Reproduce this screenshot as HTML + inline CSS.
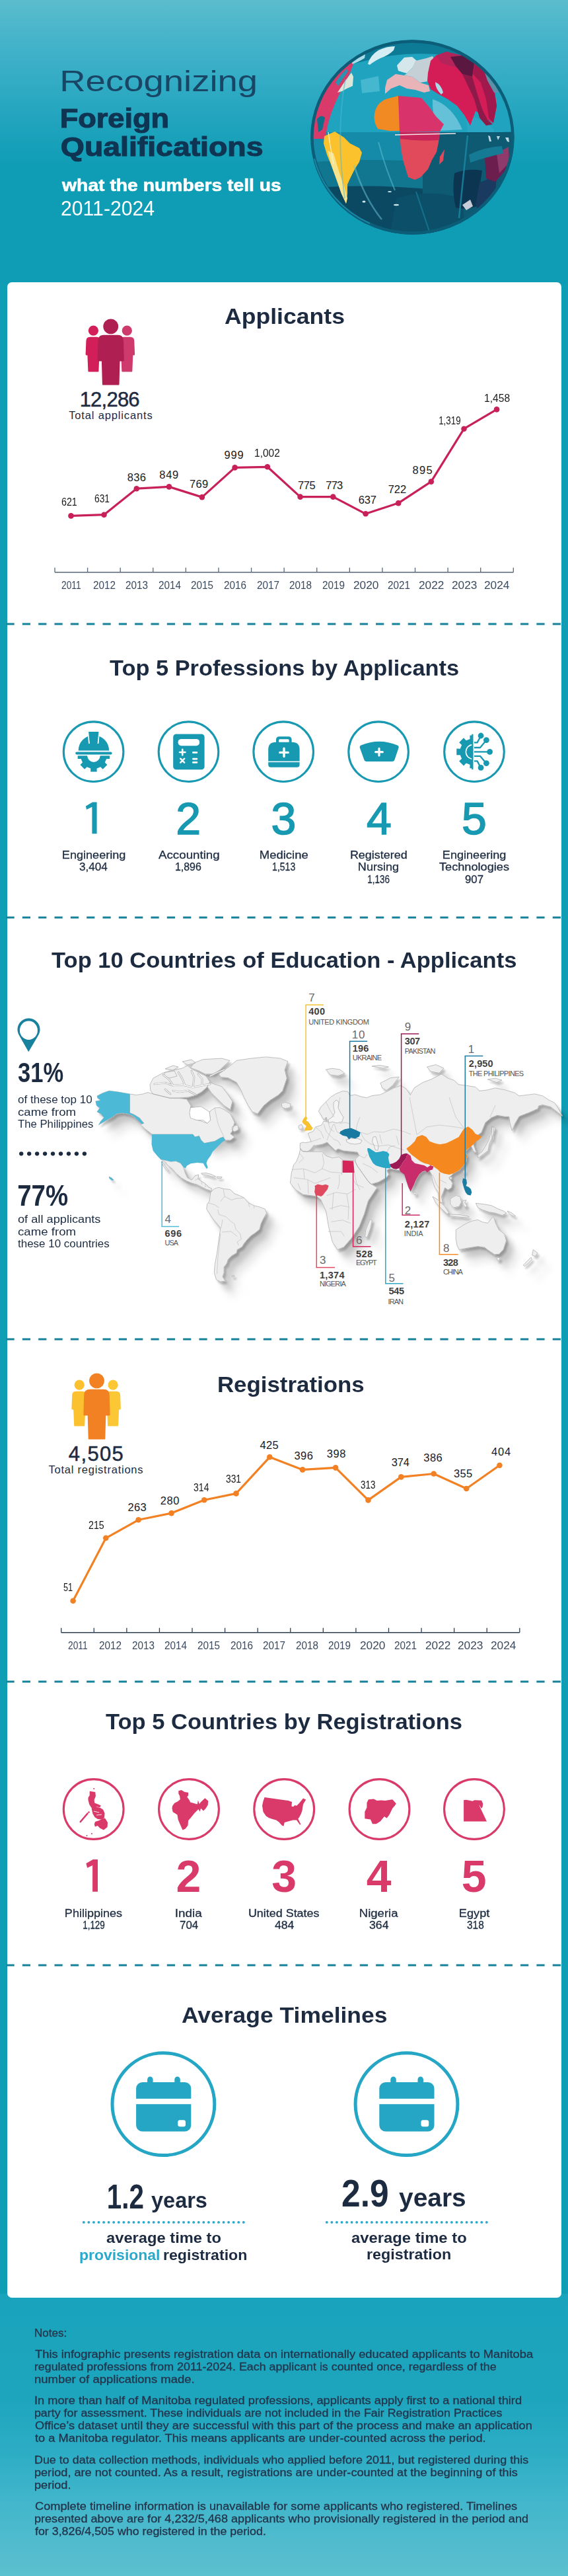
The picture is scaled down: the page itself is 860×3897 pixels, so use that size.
<!DOCTYPE html>
<html><head><meta charset="utf-8"><title>Recognizing Foreign Qualifications</title>
<style>
html,body{margin:0;padding:0;}
body{width:860px;height:3897px;position:relative;overflow:hidden;font-family:"Liberation Sans",sans-serif;background:#109eb5;}
.t{position:absolute;white-space:nowrap;line-height:1;}
.abs{position:absolute;}
svg{position:absolute;overflow:visible;}
</style></head><body>
<div class="abs" style="left:0;top:0;width:860px;height:430px;background:linear-gradient(180deg,#5bbccd 0px,#45b4ca 60px,#34acc5 120px,#1fa3bd 190px,#0f9db5 250px,#0f9db5 430px);"></div>
<div class="abs" style="left:0;top:3470px;width:860px;height:427px;background:linear-gradient(180deg,#1aa3bc 0px,#1ea5be 160px,#2cadc5 240px,#42b6cb 316px,#5cc0d0 427px);"></div>
<div class="abs" style="left:10.6px;top:427px;width:839px;height:3049px;background:#fff;border-radius:7px;"></div>
<div class="t" style="left:91.00px;top:100.68px;font-size:44px;font-weight:400;color:#1a4666;transform:scaleX(1.2380);transform-origin:3.00px 0;">Recognizing</div>
<div class="t" style="left:91.20px;top:159.26px;font-size:40px;font-weight:700;color:#0f3553;transform:scaleX(1.1271);transform-origin:2.00px 0;-webkit-text-stroke:1.2px #0f3553;">Foreign</div>
<div class="t" style="left:92.20px;top:201.76px;font-size:40px;font-weight:700;color:#0f3553;transform:scaleX(1.1592);transform-origin:1.00px 0;-webkit-text-stroke:1.2px #0f3553;">Qualifications</div>
<div class="t" style="left:93.70px;top:267.40px;font-size:26px;font-weight:700;color:#ffffff;transform:scaleX(1.0882);transform-origin:-1.00px 0;-webkit-text-stroke:0.6px #fff;">what the numbers tell us</div>
<div class="t" style="left:91.70px;top:299.77px;font-size:31px;font-weight:400;color:#ffffff;transform:scaleX(0.9730);transform-origin:1.00px 0;">2011-2024</div>
<div class="t" style="left:339.75px;top:462.08px;font-size:33px;font-weight:700;color:#1d2b41;transform:scaleX(1.0787);transform-origin:0.00px 0;">Applicants</div>
<div class="t" style="left:165.50px;top:994.08px;font-size:33px;font-weight:700;color:#1d2b41;transform:scaleX(1.0418);transform-origin:0.00px 0;">Top 5 Professions by Applicants</div>
<div class="t" style="left:77.60px;top:1435.78px;font-size:33px;font-weight:700;color:#1d2b41;transform:scaleX(1.0468);transform-origin:0.00px 0;">Top 10 Countries of Education - Applicants</div>
<div class="t" style="left:328.60px;top:2078.08px;font-size:33px;font-weight:700;color:#1d2b41;transform:scaleX(1.0568);transform-origin:2.00px 0;">Registrations</div>
<div class="t" style="left:160.40px;top:2587.78px;font-size:33px;font-weight:700;color:#1d2b41;transform:scaleX(1.0456);transform-origin:0.00px 0;">Top 5 Countries by Registrations</div>
<div class="t" style="left:275.00px;top:3032.08px;font-size:33px;font-weight:700;color:#1d2b41;transform:scaleX(1.0747);transform-origin:0.00px 0;">Average Timelines</div>
<svg style="left:0;top:939px" width="860" height="10" viewBox="0 939 860 10"><line x1="9.5" y1="944" x2="849.5" y2="944" stroke="#17819a" stroke-width="3" stroke-dasharray="12.2 12.13"/></svg>
<svg style="left:0;top:1382.5px" width="860" height="10" viewBox="0 1382.5 860 10"><line x1="9.5" y1="1387.5" x2="849.5" y2="1387.5" stroke="#17819a" stroke-width="3" stroke-dasharray="12.2 12.13"/></svg>
<svg style="left:0;top:2021px" width="860" height="10" viewBox="0 2021 860 10"><line x1="9.5" y1="2026" x2="849.5" y2="2026" stroke="#17819a" stroke-width="3" stroke-dasharray="12.2 12.13"/></svg>
<svg style="left:0;top:2539px" width="860" height="10" viewBox="0 2539 860 10"><line x1="9.5" y1="2544" x2="849.5" y2="2544" stroke="#17819a" stroke-width="3" stroke-dasharray="12.2 12.13"/></svg>
<svg style="left:0;top:2967.5px" width="860" height="10" viewBox="0 2967.5 860 10"><line x1="9.5" y1="2972.5" x2="849.5" y2="2972.5" stroke="#17819a" stroke-width="3" stroke-dasharray="12.2 12.13"/></svg>
<svg style="left:0;top:0" width="860" height="3897"><g transform="translate(0,0)"><circle cx="141.4" cy="500.2" r="7.6" fill="#d21f5a"/><path d="M130.4,515.8 Q130.4,509.8 136.4,509.8 L146.4,509.8 Q152.4,509.8 152.4,515.8 L153.20000000000002,535.9 Q153.20000000000002,537.4 151.70000000000002,537.4 L150.4,537.4 L149.4,561.5 Q149.4,562.5 148.4,562.5 L134.4,562.5 Q133.4,562.5 133.4,561.5 L132.4,537.4 L131.1,537.4 Q129.6,537.4 129.6,535.9 Z" fill="#d21f5a"/><circle cx="192.3" cy="500.2" r="7.6" fill="#ce3a6c"/><path d="M181.3,515.8 Q181.3,509.8 187.3,509.8 L197.3,509.8 Q203.3,509.8 203.3,515.8 L204.10000000000002,535.9 Q204.10000000000002,537.4 202.60000000000002,537.4 L201.3,537.4 L200.3,561.5 Q200.3,562.5 199.3,562.5 L185.3,562.5 Q184.3,562.5 184.3,561.5 L183.3,537.4 L182.0,537.4 Q180.5,537.4 180.5,535.9 Z" fill="#ce3a6c"/><circle cx="167.7" cy="493.9" r="11.4" fill="#b01f52" stroke="#fff" stroke-width="0"/><path d="M148.4,515.8 Q148.4,506.8 157.4,506.8 L177.99999999999997,506.8 Q186.99999999999997,506.8 186.99999999999997,515.8 L187.79999999999998,545.1 Q187.79999999999998,546.6 186.29999999999998,546.6 L181.5,546.6 L180.5,581.5 Q180.5,582.5 179.5,582.5 L155.89999999999998,582.5 Q154.89999999999998,582.5 154.89999999999998,581.5 L153.89999999999998,546.6 L149.1,546.6 Q147.6,546.6 147.6,545.1 Z" fill="#b01f52"/></g></svg>
<svg style="left:0;top:0" width="860" height="3897"><g transform="translate(-21.2,1595)"><circle cx="141.4" cy="500.2" r="7.6" fill="#fbc12e"/><path d="M130.4,515.8 Q130.4,509.8 136.4,509.8 L146.4,509.8 Q152.4,509.8 152.4,515.8 L153.20000000000002,535.9 Q153.20000000000002,537.4 151.70000000000002,537.4 L150.4,537.4 L149.4,561.5 Q149.4,562.5 148.4,562.5 L134.4,562.5 Q133.4,562.5 133.4,561.5 L132.4,537.4 L131.1,537.4 Q129.6,537.4 129.6,535.9 Z" fill="#fbc12e"/><circle cx="192.3" cy="500.2" r="7.6" fill="#fbc734"/><path d="M181.3,515.8 Q181.3,509.8 187.3,509.8 L197.3,509.8 Q203.3,509.8 203.3,515.8 L204.10000000000002,535.9 Q204.10000000000002,537.4 202.60000000000002,537.4 L201.3,537.4 L200.3,561.5 Q200.3,562.5 199.3,562.5 L185.3,562.5 Q184.3,562.5 184.3,561.5 L183.3,537.4 L182.0,537.4 Q180.5,537.4 180.5,535.9 Z" fill="#fbc734"/><circle cx="167.7" cy="493.9" r="11.4" fill="#f28124" stroke="#fff" stroke-width="0"/><path d="M148.4,515.8 Q148.4,506.8 157.4,506.8 L177.99999999999997,506.8 Q186.99999999999997,506.8 186.99999999999997,515.8 L187.79999999999998,545.1 Q187.79999999999998,546.6 186.29999999999998,546.6 L181.5,546.6 L180.5,581.5 Q180.5,582.5 179.5,582.5 L155.89999999999998,582.5 Q154.89999999999998,582.5 154.89999999999998,581.5 L153.89999999999998,546.6 L149.1,546.6 Q147.6,546.6 147.6,545.1 Z" fill="#f28124"/></g></svg>
<div class="t" style="left:120.65px;top:588.57px;font-size:31px;font-weight:400;color:#1d2b41;letter-spacing:-0.775px;-webkit-text-stroke:0.5px #1d2b41;">12,286</div>
<div class="t" style="left:104.15px;top:620.44px;font-size:16.5px;font-weight:400;color:#1d2b41;letter-spacing:0.854px;">Total applicants</div>
<div class="t" style="left:103.85px;top:2184.17px;font-size:31px;font-weight:400;color:#1d2b41;letter-spacing:1.341px;-webkit-text-stroke:0.5px #1d2b41;">4,505</div>
<div class="t" style="left:73.50px;top:2214.54px;font-size:16.5px;font-weight:400;color:#1d2b41;letter-spacing:0.763px;">Total registrations</div>
<svg style="left:0;top:0" width="860" height="3897"><line x1="83" y1="865.8" x2="777.3" y2="865.8" stroke="#56677a" stroke-width="1.6"/><line x1="83.00" y1="858.8" x2="83.00" y2="865.8" stroke="#56677a" stroke-width="1.3"/><line x1="132.59" y1="858.8" x2="132.59" y2="865.8" stroke="#56677a" stroke-width="1.3"/><line x1="182.19" y1="858.8" x2="182.19" y2="865.8" stroke="#56677a" stroke-width="1.3"/><line x1="231.78" y1="858.8" x2="231.78" y2="865.8" stroke="#56677a" stroke-width="1.3"/><line x1="281.37" y1="858.8" x2="281.37" y2="865.8" stroke="#56677a" stroke-width="1.3"/><line x1="330.96" y1="858.8" x2="330.96" y2="865.8" stroke="#56677a" stroke-width="1.3"/><line x1="380.56" y1="858.8" x2="380.56" y2="865.8" stroke="#56677a" stroke-width="1.3"/><line x1="430.15" y1="858.8" x2="430.15" y2="865.8" stroke="#56677a" stroke-width="1.3"/><line x1="479.74" y1="858.8" x2="479.74" y2="865.8" stroke="#56677a" stroke-width="1.3"/><line x1="529.34" y1="858.8" x2="529.34" y2="865.8" stroke="#56677a" stroke-width="1.3"/><line x1="578.93" y1="858.8" x2="578.93" y2="865.8" stroke="#56677a" stroke-width="1.3"/><line x1="628.52" y1="858.8" x2="628.52" y2="865.8" stroke="#56677a" stroke-width="1.3"/><line x1="678.11" y1="858.8" x2="678.11" y2="865.8" stroke="#56677a" stroke-width="1.3"/><line x1="727.71" y1="858.8" x2="727.71" y2="865.8" stroke="#56677a" stroke-width="1.3"/><line x1="777.30" y1="858.8" x2="777.30" y2="865.8" stroke="#56677a" stroke-width="1.3"/><polyline fill="none" stroke="#c8215a" stroke-width="3.2" stroke-linejoin="round" points="107.5,780.4 157.5,778.7 206.8,739.2 256,736.4 305.9,752.1 355.6,707.4 404.9,706.3 454.6,751.6 504.3,751.6 553.6,777.3 603.2,761.1 652.8,728.6 702.5,648.7 752.1,619.4"/><circle cx="107.5" cy="780.4" r="4.3" fill="#c8215a"/><circle cx="157.5" cy="778.7" r="4.3" fill="#c8215a"/><circle cx="206.8" cy="739.2" r="4.3" fill="#c8215a"/><circle cx="256" cy="736.4" r="4.3" fill="#c8215a"/><circle cx="305.9" cy="752.1" r="4.3" fill="#c8215a"/><circle cx="355.6" cy="707.4" r="4.3" fill="#c8215a"/><circle cx="404.9" cy="706.3" r="4.3" fill="#c8215a"/><circle cx="454.6" cy="751.6" r="4.3" fill="#c8215a"/><circle cx="504.3" cy="751.6" r="4.3" fill="#c8215a"/><circle cx="553.6" cy="777.3" r="4.3" fill="#c8215a"/><circle cx="603.2" cy="761.1" r="4.3" fill="#c8215a"/><circle cx="652.8" cy="728.6" r="4.3" fill="#c8215a"/><circle cx="702.5" cy="648.7" r="4.3" fill="#c8215a"/><circle cx="752.1" cy="619.4" r="4.3" fill="#c8215a"/></svg>
<div class="t" style="left:93.40px;top:751.04px;font-size:16.5px;font-weight:400;color:#1a1a1a;transform:scaleX(0.8628);transform-origin:0.00px 0;">621</div>
<div class="t" style="left:142.75px;top:746.44px;font-size:16.5px;font-weight:400;color:#1a1a1a;transform:scaleX(0.8372);transform-origin:0.00px 0;">631</div>
<div class="t" style="left:192.65px;top:713.64px;font-size:16.5px;font-weight:400;color:#1a1a1a;letter-spacing:0.373px;">836</div>
<div class="t" style="left:241.30px;top:710.44px;font-size:16.5px;font-weight:400;color:#1a1a1a;letter-spacing:0.723px;">849</div>
<div class="t" style="left:286.90px;top:724.04px;font-size:16.5px;font-weight:400;color:#1a1a1a;letter-spacing:0.423px;">769</div>
<div class="t" style="left:339.40px;top:680.04px;font-size:16.5px;font-weight:400;color:#1a1a1a;letter-spacing:0.923px;">999</div>
<div class="t" style="left:385.15px;top:677.24px;font-size:16.5px;font-weight:400;color:#1a1a1a;transform:scaleX(0.9398);transform-origin:1.00px 0;">1,002</div>
<div class="t" style="left:451.10px;top:725.64px;font-size:16.5px;font-weight:400;color:#1a1a1a;letter-spacing:-0.477px;">775</div>
<div class="t" style="left:493.35px;top:725.64px;font-size:16.5px;font-weight:400;color:#1a1a1a;letter-spacing:-0.827px;">773</div>
<div class="t" style="left:542.65px;top:748.24px;font-size:16.5px;font-weight:400;color:#1a1a1a;letter-spacing:-0.127px;">637</div>
<div class="t" style="left:587.70px;top:731.64px;font-size:16.5px;font-weight:400;color:#1a1a1a;letter-spacing:-0.077px;">722</div>
<div class="t" style="left:624.60px;top:702.64px;font-size:16.5px;font-weight:400;color:#1a1a1a;letter-spacing:1.323px;">895</div>
<div class="t" style="left:664.10px;top:627.64px;font-size:16.5px;font-weight:400;color:#1a1a1a;transform:scaleX(0.8077);transform-origin:1.00px 0;">1,319</div>
<div class="t" style="left:732.80px;top:593.54px;font-size:16.5px;font-weight:400;color:#1a1a1a;transform:scaleX(0.9473);transform-origin:1.00px 0;">1,458</div>
<div class="t" style="left:93.20px;top:876.82px;font-size:17px;font-weight:400;color:#3c4b5f;transform:scaleX(0.8088);transform-origin:0.00px 0;">2011</div>
<div class="t" style="left:140.59px;top:876.82px;font-size:17px;font-weight:400;color:#3c4b5f;transform:scaleX(0.8993);transform-origin:0.00px 0;">2012</div>
<div class="t" style="left:190.18px;top:876.82px;font-size:17px;font-weight:400;color:#3c4b5f;transform:scaleX(0.8993);transform-origin:0.00px 0;">2013</div>
<div class="t" style="left:239.77px;top:876.82px;font-size:17px;font-weight:400;color:#3c4b5f;transform:scaleX(0.8993);transform-origin:0.00px 0;">2014</div>
<div class="t" style="left:289.36px;top:876.82px;font-size:17px;font-weight:400;color:#3c4b5f;transform:scaleX(0.8993);transform-origin:0.00px 0;">2015</div>
<div class="t" style="left:338.95px;top:876.82px;font-size:17px;font-weight:400;color:#3c4b5f;transform:scaleX(0.8993);transform-origin:0.00px 0;">2016</div>
<div class="t" style="left:388.54px;top:876.82px;font-size:17px;font-weight:400;color:#3c4b5f;transform:scaleX(0.8993);transform-origin:0.00px 0;">2017</div>
<div class="t" style="left:438.13px;top:876.82px;font-size:17px;font-weight:400;color:#3c4b5f;transform:scaleX(0.8993);transform-origin:0.00px 0;">2018</div>
<div class="t" style="left:487.72px;top:876.82px;font-size:17px;font-weight:400;color:#3c4b5f;transform:scaleX(0.8993);transform-origin:0.00px 0;">2019</div>
<div class="t" style="left:535.11px;top:876.82px;font-size:17px;font-weight:400;color:#3c4b5f;transform:scaleX(1.0170);transform-origin:0.00px 0;">2020</div>
<div class="t" style="left:586.90px;top:876.82px;font-size:17px;font-weight:400;color:#3c4b5f;transform:scaleX(0.8993);transform-origin:0.00px 0;">2021</div>
<div class="t" style="left:634.29px;top:876.82px;font-size:17px;font-weight:400;color:#3c4b5f;transform:scaleX(1.0170);transform-origin:0.00px 0;">2022</div>
<div class="t" style="left:683.88px;top:876.82px;font-size:17px;font-weight:400;color:#3c4b5f;transform:scaleX(1.0170);transform-origin:0.00px 0;">2023</div>
<div class="t" style="left:733.47px;top:876.82px;font-size:17px;font-weight:400;color:#3c4b5f;transform:scaleX(1.0170);transform-origin:0.00px 0;">2024</div>
<svg style="left:0;top:0" width="860" height="3897"><line x1="92.7" y1="2469.7" x2="786.8" y2="2469.7" stroke="#2e3e52" stroke-width="1.6"/><line x1="92.70" y1="2462.7" x2="92.70" y2="2469.7" stroke="#2e3e52" stroke-width="1.3"/><line x1="142.28" y1="2462.7" x2="142.28" y2="2469.7" stroke="#2e3e52" stroke-width="1.3"/><line x1="191.86" y1="2462.7" x2="191.86" y2="2469.7" stroke="#2e3e52" stroke-width="1.3"/><line x1="241.44" y1="2462.7" x2="241.44" y2="2469.7" stroke="#2e3e52" stroke-width="1.3"/><line x1="291.01" y1="2462.7" x2="291.01" y2="2469.7" stroke="#2e3e52" stroke-width="1.3"/><line x1="340.59" y1="2462.7" x2="340.59" y2="2469.7" stroke="#2e3e52" stroke-width="1.3"/><line x1="390.17" y1="2462.7" x2="390.17" y2="2469.7" stroke="#2e3e52" stroke-width="1.3"/><line x1="439.75" y1="2462.7" x2="439.75" y2="2469.7" stroke="#2e3e52" stroke-width="1.3"/><line x1="489.33" y1="2462.7" x2="489.33" y2="2469.7" stroke="#2e3e52" stroke-width="1.3"/><line x1="538.91" y1="2462.7" x2="538.91" y2="2469.7" stroke="#2e3e52" stroke-width="1.3"/><line x1="588.49" y1="2462.7" x2="588.49" y2="2469.7" stroke="#2e3e52" stroke-width="1.3"/><line x1="638.06" y1="2462.7" x2="638.06" y2="2469.7" stroke="#2e3e52" stroke-width="1.3"/><line x1="687.64" y1="2462.7" x2="687.64" y2="2469.7" stroke="#2e3e52" stroke-width="1.3"/><line x1="737.22" y1="2462.7" x2="737.22" y2="2469.7" stroke="#2e3e52" stroke-width="1.3"/><line x1="786.80" y1="2462.7" x2="786.80" y2="2469.7" stroke="#2e3e52" stroke-width="1.3"/><polyline fill="none" stroke="#f28124" stroke-width="3.2" stroke-linejoin="round" points="110.6,2421.8 160.3,2326.8 209.6,2299.3 259.6,2289.1 309.2,2269.3 357.5,2259.4 408.3,2204.3 458.1,2223.4 508.1,2220.4 557.5,2269.4 607.3,2234.4 656.7,2229.5 706.2,2252 756.4,2216.7"/><circle cx="110.6" cy="2421.8" r="4.3" fill="#f28124"/><circle cx="160.3" cy="2326.8" r="4.3" fill="#f28124"/><circle cx="209.6" cy="2299.3" r="4.3" fill="#f28124"/><circle cx="259.6" cy="2289.1" r="4.3" fill="#f28124"/><circle cx="309.2" cy="2269.3" r="4.3" fill="#f28124"/><circle cx="357.5" cy="2259.4" r="4.3" fill="#f28124"/><circle cx="408.3" cy="2204.3" r="4.3" fill="#f28124"/><circle cx="458.1" cy="2223.4" r="4.3" fill="#f28124"/><circle cx="508.1" cy="2220.4" r="4.3" fill="#f28124"/><circle cx="557.5" cy="2269.4" r="4.3" fill="#f28124"/><circle cx="607.3" cy="2234.4" r="4.3" fill="#f28124"/><circle cx="656.7" cy="2229.5" r="4.3" fill="#f28124"/><circle cx="706.2" cy="2252" r="4.3" fill="#f28124"/><circle cx="756.4" cy="2216.7" r="4.3" fill="#f28124"/></svg>
<div class="t" style="left:95.85px;top:2393.04px;font-size:16.5px;font-weight:400;color:#1a1a1a;transform:scaleX(0.7757);transform-origin:0.00px 0;">51</div>
<div class="t" style="left:133.90px;top:2299.44px;font-size:16.5px;font-weight:400;color:#1a1a1a;transform:scaleX(0.8628);transform-origin:0.00px 0;">215</div>
<div class="t" style="left:193.45px;top:2272.34px;font-size:16.5px;font-weight:400;color:#1a1a1a;letter-spacing:0.373px;">263</div>
<div class="t" style="left:242.75px;top:2262.44px;font-size:16.5px;font-weight:400;color:#1a1a1a;letter-spacing:0.573px;">280</div>
<div class="t" style="left:293.05px;top:2242.34px;font-size:16.5px;font-weight:400;color:#1a1a1a;transform:scaleX(0.8518);transform-origin:0.00px 0;">314</div>
<div class="t" style="left:341.55px;top:2229.24px;font-size:16.5px;font-weight:400;color:#1a1a1a;transform:scaleX(0.8372);transform-origin:0.00px 0;">331</div>
<div class="t" style="left:393.45px;top:2178.24px;font-size:16.5px;font-weight:400;color:#1a1a1a;letter-spacing:0.373px;">425</div>
<div class="t" style="left:445.50px;top:2194.04px;font-size:16.5px;font-weight:400;color:#1a1a1a;letter-spacing:0.423px;">396</div>
<div class="t" style="left:494.75px;top:2191.24px;font-size:16.5px;font-weight:400;color:#1a1a1a;letter-spacing:0.573px;">398</div>
<div class="t" style="left:545.90px;top:2238.04px;font-size:16.5px;font-weight:400;color:#1a1a1a;transform:scaleX(0.8116);transform-origin:0.00px 0;">313</div>
<div class="t" style="left:592.75px;top:2204.24px;font-size:16.5px;font-weight:400;color:#1a1a1a;letter-spacing:-0.127px;">374</div>
<div class="t" style="left:641.35px;top:2197.24px;font-size:16.5px;font-weight:400;color:#1a1a1a;letter-spacing:0.373px;">386</div>
<div class="t" style="left:686.90px;top:2221.14px;font-size:16.5px;font-weight:400;color:#1a1a1a;letter-spacing:0.423px;">355</div>
<div class="t" style="left:743.90px;top:2187.74px;font-size:16.5px;font-weight:400;color:#1a1a1a;letter-spacing:0.923px;">404</div>
<div class="t" style="left:102.90px;top:2481.32px;font-size:17px;font-weight:400;color:#3c4b5f;transform:scaleX(0.8088);transform-origin:0.00px 0;">2011</div>
<div class="t" style="left:150.28px;top:2481.32px;font-size:17px;font-weight:400;color:#3c4b5f;transform:scaleX(0.8993);transform-origin:0.00px 0;">2012</div>
<div class="t" style="left:199.86px;top:2481.32px;font-size:17px;font-weight:400;color:#3c4b5f;transform:scaleX(0.8993);transform-origin:0.00px 0;">2013</div>
<div class="t" style="left:249.44px;top:2481.32px;font-size:17px;font-weight:400;color:#3c4b5f;transform:scaleX(0.8993);transform-origin:0.00px 0;">2014</div>
<div class="t" style="left:299.02px;top:2481.32px;font-size:17px;font-weight:400;color:#3c4b5f;transform:scaleX(0.8993);transform-origin:0.00px 0;">2015</div>
<div class="t" style="left:348.60px;top:2481.32px;font-size:17px;font-weight:400;color:#3c4b5f;transform:scaleX(0.8993);transform-origin:0.00px 0;">2016</div>
<div class="t" style="left:398.18px;top:2481.32px;font-size:17px;font-weight:400;color:#3c4b5f;transform:scaleX(0.8993);transform-origin:0.00px 0;">2017</div>
<div class="t" style="left:447.76px;top:2481.32px;font-size:17px;font-weight:400;color:#3c4b5f;transform:scaleX(0.8993);transform-origin:0.00px 0;">2018</div>
<div class="t" style="left:497.34px;top:2481.32px;font-size:17px;font-weight:400;color:#3c4b5f;transform:scaleX(0.8993);transform-origin:0.00px 0;">2019</div>
<div class="t" style="left:544.72px;top:2481.32px;font-size:17px;font-weight:400;color:#3c4b5f;transform:scaleX(1.0170);transform-origin:0.00px 0;">2020</div>
<div class="t" style="left:596.50px;top:2481.32px;font-size:17px;font-weight:400;color:#3c4b5f;transform:scaleX(0.8993);transform-origin:0.00px 0;">2021</div>
<div class="t" style="left:643.88px;top:2481.32px;font-size:17px;font-weight:400;color:#3c4b5f;transform:scaleX(1.0170);transform-origin:0.00px 0;">2022</div>
<div class="t" style="left:693.46px;top:2481.32px;font-size:17px;font-weight:400;color:#3c4b5f;transform:scaleX(1.0170);transform-origin:0.00px 0;">2023</div>
<div class="t" style="left:743.04px;top:2481.32px;font-size:17px;font-weight:400;color:#3c4b5f;transform:scaleX(1.0170);transform-origin:0.00px 0;">2024</div>
<svg style="left:0;top:0" width="860" height="3897"><circle cx="141.6" cy="1137.2" r="45.3" fill="none" stroke="#1899b2" stroke-width="3.1"/><circle cx="285.5" cy="1137.2" r="45.3" fill="none" stroke="#1899b2" stroke-width="3.1"/><circle cx="429.2" cy="1137.2" r="45.3" fill="none" stroke="#1899b2" stroke-width="3.1"/><circle cx="573.1" cy="1137.2" r="45.3" fill="none" stroke="#1899b2" stroke-width="3.1"/><circle cx="718" cy="1137.2" r="45.3" fill="none" stroke="#1899b2" stroke-width="3.1"/><clipPath id="gclip"><rect x="100" y="1143.2" width="90" height="40"/></clipPath><path d="M161.13,1138.49 L166.15,1138.49 L166.15,1147.91 L161.13,1147.91 L158.83,1153.47 L162.38,1157.01 L155.71,1163.68 L152.17,1160.13 L146.61,1162.43 L146.61,1167.45 L137.19,1167.45 L137.19,1162.43 L131.63,1160.13 L128.09,1163.68 L121.42,1157.01 L124.97,1153.47 L122.67,1147.91 L117.65,1147.91 L117.65,1138.49 L122.67,1138.49 L124.97,1132.93 L121.42,1129.39 L128.09,1122.72 L131.63,1126.27 L137.19,1123.97 L137.19,1118.95 L146.61,1118.95 L146.61,1123.97 L152.17,1126.27 L155.71,1122.72 L162.38,1129.39 L158.83,1132.93 Z" fill="#1899b2" clip-path="url(#gclip)"/><circle cx="141.9" cy="1143.2" r="9.7" fill="#fff"/><path d="M118.7,1135.4 A23.2,23.2 0 0 1 165.1,1135.4 Z" fill="#1899b2"/><path d="M132.4,1106 L151.1,1106 L149.4,1125 L134.1,1125 Z" fill="#fff"/><path d="M134.1,1107 L149.4,1107 L147.6,1125 L135.9,1125 Z" fill="#1899b2"/><rect x="114.2" y="1137.4" width="55.4" height="4.2" rx="2" fill="#1899b2"/><rect x="262.2" y="1110.4" width="47.4" height="53.9" rx="4.5" fill="#1899b2"/><rect x="269.6" y="1117.9" width="32.5" height="10.3" rx="5" fill="#fff"/><path d="M276.2,1133.8 L276.2,1142.2 M272,1138 L280.4,1138" stroke="#fff" stroke-width="2.6" stroke-linecap="round"/><path d="M273.2,1147.7 L279.2,1153.7 M279.2,1147.7 L273.2,1153.7" stroke="#fff" stroke-width="2.4" stroke-linecap="round"/><path d="M292.3,1138.4 L298,1138.4 M292.3,1148.1 L298,1148.1 M292.3,1153.4 L298,1153.4" stroke="#fff" stroke-width="2.6" stroke-linecap="round"/><rect x="418" y="1114.2" width="23.6" height="14" rx="4.5" fill="#1899b2"/><rect x="422.2" y="1118.2" width="15.4" height="10" rx="1.5" fill="#fff"/><path d="M406.2,1134 Q406.2,1122.7 417.5,1122.7 L442.3,1122.7 Q453.6,1122.7 453.6,1134 L453.6,1156.8 Q453.6,1160.8 449.6,1160.8 L410.2,1160.8 Q406.2,1160.8 406.2,1156.8 Z" fill="#1899b2"/><rect x="406" y="1151.6" width="48" height="1.5" fill="#fff"/><path d="M430,1132.2 L430,1144.6 M423.8,1138.4 L436.2,1138.4" stroke="#fff" stroke-width="3.4" stroke-linecap="round"/><path d="M546.5,1127.5 Q574.1,1116 601.7,1127.5 Q604.5,1128.8 603.4,1131.8 L597.6,1149 Q596.8,1151.9 593.8,1151.9 L555,1151.9 Q552,1151.9 551.2,1149 L545,1131.8 Q543.9,1128.8 546.5,1127.5 Z" fill="#1899b2"/><path d="M574,1132.4 L574,1143 M568.7,1137.7 L579.3,1137.7" stroke="#fff" stroke-width="3.2" stroke-linecap="round"/><clipPath id="gclip2"><rect x="680" y="1100" width="35.2" height="80"/></clipPath><path d="M735.63,1132.65 L741.13,1132.55 L741.13,1142.25 L735.63,1142.15 L733.30,1147.78 L737.26,1151.60 L730.40,1158.46 L726.58,1154.50 L720.95,1156.83 L721.05,1162.33 L711.35,1162.33 L711.45,1156.83 L705.82,1154.50 L702.00,1158.46 L695.14,1151.60 L699.10,1147.78 L696.77,1142.15 L691.27,1142.25 L691.27,1132.55 L696.77,1132.65 L699.10,1127.02 L695.14,1123.20 L702.00,1116.34 L705.82,1120.30 L711.45,1117.97 L711.35,1112.47 L721.05,1112.47 L720.95,1117.97 L726.58,1120.30 L730.40,1116.34 L737.26,1123.20 L733.30,1127.02 Z" fill="#1899b2" clip-path="url(#gclip2)"/><circle cx="716.2" cy="1137.4" r="11.6" fill="#fff"/><path d="M716.2,1127.4 A10,10 0 0 0 716.2,1147.4 Z" fill="#1899b2"/><rect x="714.2" y="1110.7" width="2.3" height="53.4" fill="#1899b2"/><g stroke="#1899b2" stroke-width="2.3" fill="none" stroke-linejoin="round"><path d="M718,1123.4 L722.6,1123.4 L728.1,1113"/><path d="M718,1131 L727,1131 L736.4,1119.7"/><path d="M718,1137.4 L741.6,1137.4"/><path d="M718,1143.8 L727,1143.8 L736.4,1155"/><path d="M718,1151.4 L722.6,1151.4 L728.1,1161.8"/></g><circle cx="728.1" cy="1113" r="4.4" fill="#1899b2"/><circle cx="736.4" cy="1119.7" r="4.4" fill="#1899b2"/><circle cx="741.6" cy="1137.4" r="4.4" fill="#1899b2"/><circle cx="736.4" cy="1154.6" r="4.4" fill="#1899b2"/><circle cx="728.1" cy="1161.4" r="4.4" fill="#1899b2"/></svg>
<svg style="left:0;top:0" width="860" height="3897"><path d="M140.1,1213.5 L146.6,1213.5 L146.6,1261.3 L139.4,1261.3 L139.4,1220.8 L130.9,1224.7 L129.9,1219.4 Z" fill="#1899b2"/></svg>
<div class="t" style="left:266.20px;top:1204.07px;font-size:68px;font-weight:400;color:#1899b2;-webkit-text-stroke:1.6px #1899b2;">2</div>
<div class="t" style="left:410.50px;top:1204.07px;font-size:68px;font-weight:400;color:#1899b2;-webkit-text-stroke:1.6px #1899b2;">3</div>
<div class="t" style="left:555.00px;top:1204.07px;font-size:68px;font-weight:400;color:#1899b2;-webkit-text-stroke:1.6px #1899b2;">4</div>
<div class="t" style="left:699.00px;top:1204.07px;font-size:68px;font-weight:400;color:#1899b2;-webkit-text-stroke:1.6px #1899b2;">5</div>
<div class="t" style="left:93.65px;top:1285.86px;font-size:16px;font-weight:400;color:#1d2b41;transform:scaleX(1.1293);transform-origin:1.00px 0;-webkit-text-stroke:0.3px #1d2b41;">Engineering</div>
<div class="t" style="left:120.35px;top:1304.36px;font-size:16px;font-weight:400;color:#1d2b41;transform:scaleX(1.0687);transform-origin:0.00px 0;-webkit-text-stroke:0.3px #1d2b41;">3,404</div>
<div class="t" style="left:240.00px;top:1285.86px;font-size:16px;font-weight:400;color:#1d2b41;transform:scaleX(1.1704);transform-origin:0.00px 0;-webkit-text-stroke:0.3px #1d2b41;">Accounting</div>
<div class="t" style="left:265.35px;top:1304.36px;font-size:16px;font-weight:400;color:#1d2b41;transform:scaleX(0.9939);transform-origin:1.00px 0;-webkit-text-stroke:0.3px #1d2b41;">1,896</div>
<div class="t" style="left:392.60px;top:1285.86px;font-size:16px;font-weight:400;color:#1d2b41;transform:scaleX(1.1531);transform-origin:1.00px 0;-webkit-text-stroke:0.3px #1d2b41;">Medicine</div>
<div class="t" style="left:411.85px;top:1304.36px;font-size:16px;font-weight:400;color:#1d2b41;transform:scaleX(0.8763);transform-origin:1.00px 0;-webkit-text-stroke:0.3px #1d2b41;">1,513</div>
<div class="t" style="left:530.10px;top:1285.86px;font-size:16px;font-weight:400;color:#1d2b41;transform:scaleX(1.1235);transform-origin:1.00px 0;-webkit-text-stroke:0.3px #1d2b41;">Registered</div>
<div class="t" style="left:542.45px;top:1304.36px;font-size:16px;font-weight:400;color:#1d2b41;transform:scaleX(1.1290);transform-origin:1.00px 0;-webkit-text-stroke:0.3px #1d2b41;">Nursing</div>
<div class="t" style="left:556.00px;top:1322.86px;font-size:16px;font-weight:400;color:#1d2b41;transform:scaleX(0.8431);transform-origin:1.00px 0;-webkit-text-stroke:0.3px #1d2b41;">1,136</div>
<div class="t" style="left:670.05px;top:1285.86px;font-size:16px;font-weight:400;color:#1d2b41;transform:scaleX(1.1293);transform-origin:1.00px 0;-webkit-text-stroke:0.3px #1d2b41;">Engineering</div>
<div class="t" style="left:665.20px;top:1304.36px;font-size:16px;font-weight:400;color:#1d2b41;transform:scaleX(1.1349);transform-origin:0.00px 0;-webkit-text-stroke:0.3px #1d2b41;">Technologies</div>
<div class="t" style="left:704.15px;top:1322.86px;font-size:16px;font-weight:400;color:#1d2b41;transform:scaleX(1.0486);transform-origin:0.00px 0;-webkit-text-stroke:0.3px #1d2b41;">907</div>
<svg style="left:0;top:0" width="860" height="3897"><circle cx="141.7" cy="2737" r="45.4" fill="none" stroke="#d93a69" stroke-width="3.1"/><circle cx="286" cy="2737" r="45.4" fill="none" stroke="#d93a69" stroke-width="3.1"/><circle cx="430.2" cy="2737" r="45.4" fill="none" stroke="#d93a69" stroke-width="3.1"/><circle cx="574.5" cy="2737" r="45.4" fill="none" stroke="#d93a69" stroke-width="3.1"/><circle cx="718" cy="2737" r="45.4" fill="none" stroke="#d93a69" stroke-width="3.1"/><path d="M135.7,2709.7 L144.3,2710.9 L144.9,2717.2 L142.6,2722.9 L143.2,2727.5 L147.8,2729.2 L152.9,2731.5 L151.2,2734.3 L146.6,2733.2 L140.9,2736.6 L138.0,2734.3 L135.2,2729.8 L133.5,2722.9 L133.5,2719.5 L135.7,2716.0 Z" fill="#d93a69"/><path d="M138.5,2735.5 L146.0,2733.5 L152.0,2735.0 L156.0,2737.5 L158.5,2743.0 L158.0,2750.0 L154.0,2752.5 L148.0,2752.0 L143.5,2749.0 L140.5,2744.0 Z" fill="#d93a69"/><path d="M142,2740 L150,2742 M146,2746 L154,2745" stroke="#fff" stroke-width="0.9"/><path d="M144.0,2756.0 L150.0,2754.0 L155.0,2751.5 L159.0,2750.4 L163.0,2757.0 L162.6,2764.0 L157.0,2768.5 L151.2,2765.5 L147.8,2762.0 L143.8,2763.5 L142.8,2759.5 Z" fill="#d93a69"/><path d="M121.8,2756 L132.5,2743.5" stroke="#d93a69" stroke-width="2.6" stroke-linecap="round"/><circle cx="134.5" cy="2741.5" r="1.3" fill="#d93a69"/><circle cx="142.2" cy="2706" r="1" fill="#d93a69"/><circle cx="139" cy="2774" r="1" fill="#d93a69"/><circle cx="131.5" cy="2777" r="1" fill="#d93a69"/><path d="M270.3,2709.2 L274.6,2708.0 L279.6,2711.1 L285.1,2711.7 L285.1,2716.0 L283.3,2718.5 L286.4,2722.8 L288.2,2726.5 L294.4,2728.3 L298.7,2729.6 L299.9,2723.5 L301.8,2729.0 L304.2,2725.9 L310.4,2720.3 L315.3,2724.6 L314.7,2730.8 L311.6,2735.7 L307.9,2739.4 L304.2,2735.7 L302.4,2740.7 L300.5,2737.0 L294.4,2743.1 L289.4,2749.3 L285.1,2754.2 L284.5,2761.6 L280.8,2766.6 L276.5,2768.4 L273.4,2761.6 L269.7,2753.0 L268.5,2745.6 L264.8,2743.1 L261.7,2741.3 L260.5,2735.7 L261.1,2732.0 L264.2,2727.7 L269.1,2725.3 L272.8,2722.2 L272.2,2717.3 L270.3,2713.6 Z" fill="#d93a69"/><path d="M400.6,2719.1 L411.1,2720.5 L425.2,2722.6 L436.5,2724.0 L442.1,2726.1 L441.4,2732.5 L444.2,2733.2 L446.3,2731.1 L449.2,2731.8 L453.4,2727.5 L459.0,2720.5 L463.2,2722.6 L459.0,2729.6 L457.6,2738.8 L456.2,2743.0 L453.4,2748.7 L451.3,2751.5 L453.4,2755.7 L455.5,2759.9 L454.1,2760.6 L450.6,2755.7 L449.2,2753.6 L443.5,2753.6 L437.9,2755.0 L430.8,2757.1 L429.4,2762.7 L426.6,2761.3 L422.4,2756.4 L418.2,2753.6 L411.1,2751.5 L406.9,2750.1 L402.7,2747.3 L398.5,2740.9 L397.0,2731.8 L398.5,2724.7 Z" fill="#d93a69"/><path d="M557.9,2722.3 L565.9,2721.6 L570.8,2724.1 L577.0,2723.5 L583.1,2724.1 L594.2,2722.3 L599.8,2728.4 L597.9,2731.5 L594.2,2735.8 L589.3,2745.7 L585.6,2750.6 L581.9,2748.1 L575.7,2755.5 L569.6,2759.2 L564.0,2759.2 L561.0,2752.4 L552.3,2751.2 L552.3,2740.7 L555.4,2734.6 L555.4,2727.2 Z" fill="#d93a69"/><path d="M702.1,2723.2 L705.8,2722.7 L715.4,2724.8 L718.5,2723.2 L729.1,2723.7 L731.2,2728.5 L730.7,2733.2 L729.1,2735.9 L724.9,2729.5 L728.0,2736.4 L737.0,2755.4 L702.1,2755.6 Z" fill="#d93a69"/><path d="M140.8,2813.1 L148,2813.1 L148,2861.7 L140.1,2861.7 L140.1,2821.9 L132.1,2825.8 L130.4,2819.1 Z" fill="#d93a69"/></svg>
<div class="t" style="left:266.55px;top:2804.47px;font-size:68px;font-weight:700;color:#d93a69;">2</div>
<div class="t" style="left:411.25px;top:2804.47px;font-size:68px;font-weight:700;color:#d93a69;">3</div>
<div class="t" style="left:554.80px;top:2804.47px;font-size:68px;font-weight:700;color:#d93a69;">4</div>
<div class="t" style="left:698.85px;top:2804.47px;font-size:68px;font-weight:700;color:#d93a69;">5</div>
<div class="t" style="left:98.20px;top:2887.06px;font-size:16px;font-weight:400;color:#1d2b41;transform:scaleX(1.1259);transform-origin:1.00px 0;-webkit-text-stroke:0.3px #1d2b41;">Philippines</div>
<div class="t" style="left:124.75px;top:2905.36px;font-size:16px;font-weight:400;color:#1d2b41;transform:scaleX(0.8406);transform-origin:1.00px 0;-webkit-text-stroke:0.3px #1d2b41;">1,129</div>
<div class="t" style="left:265.20px;top:2887.06px;font-size:16px;font-weight:400;color:#1d2b41;transform:scaleX(1.1776);transform-origin:1.00px 0;-webkit-text-stroke:0.3px #1d2b41;">India</div>
<div class="t" style="left:271.95px;top:2905.36px;font-size:16px;font-weight:400;color:#1d2b41;transform:scaleX(1.0561);transform-origin:0.00px 0;-webkit-text-stroke:0.3px #1d2b41;">704</div>
<div class="t" style="left:376.05px;top:2887.06px;font-size:16px;font-weight:400;color:#1d2b41;transform:scaleX(1.1204);transform-origin:1.00px 0;-webkit-text-stroke:0.3px #1d2b41;">United States</div>
<div class="t" style="left:415.55px;top:2905.36px;font-size:16px;font-weight:400;color:#1d2b41;transform:scaleX(1.1009);transform-origin:0.00px 0;-webkit-text-stroke:0.3px #1d2b41;">484</div>
<div class="t" style="left:544.00px;top:2887.06px;font-size:16px;font-weight:400;color:#1d2b41;transform:scaleX(1.1569);transform-origin:1.00px 0;-webkit-text-stroke:0.3px #1d2b41;">Nigeria</div>
<div class="t" style="left:559.00px;top:2905.36px;font-size:16px;font-weight:400;color:#1d2b41;transform:scaleX(1.1046);transform-origin:0.00px 0;-webkit-text-stroke:0.3px #1d2b41;">364</div>
<div class="t" style="left:695.45px;top:2887.06px;font-size:16px;font-weight:400;color:#1d2b41;transform:scaleX(1.1342);transform-origin:1.00px 0;-webkit-text-stroke:0.3px #1d2b41;">Egypt</div>
<div class="t" style="left:706.50px;top:2905.36px;font-size:16px;font-weight:400;color:#1d2b41;transform:scaleX(0.9628);transform-origin:0.00px 0;-webkit-text-stroke:0.3px #1d2b41;">318</div>
<svg style="left:0;top:0" width="860" height="3897"><circle cx="247.4" cy="3183.2" r="77.4" fill="none" stroke="#24a6c4" stroke-width="5"/><g transform="translate(0,0)"><rect x="206.1" y="3150" width="83.2" height="74.6" rx="9.5" fill="#24a6c4"/><rect x="205" y="3174.9" width="86" height="8.3" fill="#fff"/><rect x="223.1" y="3141.5" width="8.5" height="14" rx="4.25" fill="#24a6c4"/><rect x="264.3" y="3141.5" width="8.5" height="14" rx="4.25" fill="#24a6c4"/><rect x="269.3" y="3207.3" width="11.7" height="10" rx="3" fill="#fff"/></g><circle cx="615.5" cy="3183.2" r="77.4" fill="none" stroke="#24a6c4" stroke-width="5"/><g transform="translate(368.2,0)"><rect x="206.1" y="3150" width="83.2" height="74.6" rx="9.5" fill="#24a6c4"/><rect x="205" y="3174.9" width="86" height="8.3" fill="#fff"/><rect x="223.1" y="3141.5" width="8.5" height="14" rx="4.25" fill="#24a6c4"/><rect x="264.3" y="3141.5" width="8.5" height="14" rx="4.25" fill="#24a6c4"/><rect x="269.3" y="3207.3" width="11.7" height="10" rx="3" fill="#fff"/></g><circle cx="126.80" cy="3361.9" r="1.95" fill="#29a9cc"/><circle cx="134.36" cy="3361.9" r="1.95" fill="#29a9cc"/><circle cx="141.93" cy="3361.9" r="1.95" fill="#29a9cc"/><circle cx="149.49" cy="3361.9" r="1.95" fill="#29a9cc"/><circle cx="157.05" cy="3361.9" r="1.95" fill="#29a9cc"/><circle cx="164.61" cy="3361.9" r="1.95" fill="#29a9cc"/><circle cx="172.18" cy="3361.9" r="1.95" fill="#29a9cc"/><circle cx="179.74" cy="3361.9" r="1.95" fill="#29a9cc"/><circle cx="187.30" cy="3361.9" r="1.95" fill="#29a9cc"/><circle cx="194.86" cy="3361.9" r="1.95" fill="#29a9cc"/><circle cx="202.43" cy="3361.9" r="1.95" fill="#29a9cc"/><circle cx="209.99" cy="3361.9" r="1.95" fill="#29a9cc"/><circle cx="217.55" cy="3361.9" r="1.95" fill="#29a9cc"/><circle cx="225.11" cy="3361.9" r="1.95" fill="#29a9cc"/><circle cx="232.68" cy="3361.9" r="1.95" fill="#29a9cc"/><circle cx="240.24" cy="3361.9" r="1.95" fill="#29a9cc"/><circle cx="247.80" cy="3361.9" r="1.95" fill="#29a9cc"/><circle cx="255.36" cy="3361.9" r="1.95" fill="#29a9cc"/><circle cx="262.93" cy="3361.9" r="1.95" fill="#29a9cc"/><circle cx="270.49" cy="3361.9" r="1.95" fill="#29a9cc"/><circle cx="278.05" cy="3361.9" r="1.95" fill="#29a9cc"/><circle cx="285.61" cy="3361.9" r="1.95" fill="#29a9cc"/><circle cx="293.18" cy="3361.9" r="1.95" fill="#29a9cc"/><circle cx="300.74" cy="3361.9" r="1.95" fill="#29a9cc"/><circle cx="308.30" cy="3361.9" r="1.95" fill="#29a9cc"/><circle cx="315.86" cy="3361.9" r="1.95" fill="#29a9cc"/><circle cx="323.43" cy="3361.9" r="1.95" fill="#29a9cc"/><circle cx="330.99" cy="3361.9" r="1.95" fill="#29a9cc"/><circle cx="338.55" cy="3361.9" r="1.95" fill="#29a9cc"/><circle cx="346.11" cy="3361.9" r="1.95" fill="#29a9cc"/><circle cx="353.68" cy="3361.9" r="1.95" fill="#29a9cc"/><circle cx="361.24" cy="3361.9" r="1.95" fill="#29a9cc"/><circle cx="368.80" cy="3361.9" r="1.95" fill="#29a9cc"/><circle cx="494.80" cy="3361.9" r="1.95" fill="#29a9cc"/><circle cx="502.36" cy="3361.9" r="1.95" fill="#29a9cc"/><circle cx="509.93" cy="3361.9" r="1.95" fill="#29a9cc"/><circle cx="517.49" cy="3361.9" r="1.95" fill="#29a9cc"/><circle cx="525.05" cy="3361.9" r="1.95" fill="#29a9cc"/><circle cx="532.61" cy="3361.9" r="1.95" fill="#29a9cc"/><circle cx="540.17" cy="3361.9" r="1.95" fill="#29a9cc"/><circle cx="547.74" cy="3361.9" r="1.95" fill="#29a9cc"/><circle cx="555.30" cy="3361.9" r="1.95" fill="#29a9cc"/><circle cx="562.86" cy="3361.9" r="1.95" fill="#29a9cc"/><circle cx="570.42" cy="3361.9" r="1.95" fill="#29a9cc"/><circle cx="577.99" cy="3361.9" r="1.95" fill="#29a9cc"/><circle cx="585.55" cy="3361.9" r="1.95" fill="#29a9cc"/><circle cx="593.11" cy="3361.9" r="1.95" fill="#29a9cc"/><circle cx="600.67" cy="3361.9" r="1.95" fill="#29a9cc"/><circle cx="608.24" cy="3361.9" r="1.95" fill="#29a9cc"/><circle cx="615.80" cy="3361.9" r="1.95" fill="#29a9cc"/><circle cx="623.36" cy="3361.9" r="1.95" fill="#29a9cc"/><circle cx="630.92" cy="3361.9" r="1.95" fill="#29a9cc"/><circle cx="638.49" cy="3361.9" r="1.95" fill="#29a9cc"/><circle cx="646.05" cy="3361.9" r="1.95" fill="#29a9cc"/><circle cx="653.61" cy="3361.9" r="1.95" fill="#29a9cc"/><circle cx="661.17" cy="3361.9" r="1.95" fill="#29a9cc"/><circle cx="668.74" cy="3361.9" r="1.95" fill="#29a9cc"/><circle cx="676.30" cy="3361.9" r="1.95" fill="#29a9cc"/><circle cx="683.86" cy="3361.9" r="1.95" fill="#29a9cc"/><circle cx="691.42" cy="3361.9" r="1.95" fill="#29a9cc"/><circle cx="698.99" cy="3361.9" r="1.95" fill="#29a9cc"/><circle cx="706.55" cy="3361.9" r="1.95" fill="#29a9cc"/><circle cx="714.11" cy="3361.9" r="1.95" fill="#29a9cc"/><circle cx="721.67" cy="3361.9" r="1.95" fill="#29a9cc"/><circle cx="729.24" cy="3361.9" r="1.95" fill="#29a9cc"/><circle cx="736.80" cy="3361.9" r="1.95" fill="#29a9cc"/></svg>
<div class="t" style="left:161.00px;top:3297.41px;font-size:52px;font-weight:700;color:#1d2b41;transform:scaleX(0.7778);transform-origin:3.00px 0;">1.2</div>
<div class="t" style="left:228.60px;top:3312.18px;font-size:33px;font-weight:700;color:#1d2b41;transform:scaleX(0.9847);transform-origin:0.00px 0;">years</div>
<div class="t" style="left:516.90px;top:3289.88px;font-size:57px;font-weight:700;color:#1d2b41;transform:scaleX(0.9041);transform-origin:1.00px 0;">2.9</div>
<div class="t" style="left:603.90px;top:3305.28px;font-size:39.5px;font-weight:700;color:#1d2b41;transform:scaleX(0.9846);transform-origin:0.00px 0;">years</div>
<div class="t" style="left:161.15px;top:3375.19px;font-size:22px;font-weight:700;color:#1d2b41;transform:scaleX(1.0779);transform-origin:0.00px 0;">average time to</div>
<div class="t" style="left:119.70px;top:3401.29px;font-size:22px;font-weight:700;color:#29a9cc;transform:scaleX(1.0439);transform-origin:1.00px 0;">provisional</div>
<div class="t" style="left:247.10px;top:3401.29px;font-size:22px;font-weight:700;color:#1d2b41;transform:scaleX(1.0528);transform-origin:1.00px 0;">registration</div>
<div class="t" style="left:532.00px;top:3375.19px;font-size:22px;font-weight:700;color:#1d2b41;transform:scaleX(1.0822);transform-origin:0.00px 0;">average time to</div>
<div class="t" style="left:554.80px;top:3399.89px;font-size:22px;font-weight:700;color:#1d2b41;transform:scaleX(1.0595);transform-origin:1.00px 0;">registration</div>
<svg style="left:0;top:0" width="860" height="3897"><defs><filter id="msh" x="-10%" y="-10%" width="130%" height="150%"><feGaussianBlur in="SourceAlpha" stdDeviation="1.5" result="b1"/><feOffset in="b1" dx="3" dy="3.5" result="o1"/><feFlood flood-color="#000" flood-opacity="0.22"/><feComposite in2="o1" operator="in" result="s1"/><feGaussianBlur in="SourceAlpha" stdDeviation="4.5" result="b2"/><feOffset in="b2" dx="10" dy="12" result="o2"/><feFlood flood-color="#000" flood-opacity="0.16"/><feComposite in2="o2" operator="in" result="s2"/><feGaussianBlur in="SourceAlpha" stdDeviation="6" result="b3"/><feOffset in="b3" dx="18" dy="22" result="o3"/><feFlood flood-color="#000" flood-opacity="0.09"/><feComposite in2="o3" operator="in" result="s3"/><feMerge><feMergeNode in="s3"/><feMergeNode in="s2"/><feMergeNode in="s1"/><feMergeNode in="SourceGraphic"/></feMerge></filter></defs><g filter="url(#msh)"><path d="M147.0,1658.1 L155.8,1653.4 L165.3,1650.2 L178.0,1651.8 L196.4,1655.0 L196.4,1683.5 L203.4,1686.6 L211.3,1691.4 L217.6,1699.3 L214.5,1700.3 L208.1,1693.9 L201.8,1688.2 L193.9,1685.0 L184.4,1683.5 L176.4,1685.0 L170.1,1689.8 L159.0,1696.1 L149.5,1701.5 L152.7,1696.1 L157.4,1690.8 L152.7,1685.0 L147.0,1681.9 L151.1,1676.2 L146.3,1672.4 L144.8,1666.0 L152.7,1664.5 L147.9,1661.3 Z M196.4,1655.0 L206.5,1656.5 L216.0,1655.0 L224.0,1652.7 L231.9,1655.0 L244.6,1658.1 L257.2,1661.3 L269.9,1661.3 L282.6,1662.9 L288.9,1672.4 L287.3,1685.0 L293.7,1693.0 L304.8,1696.1 L313.9,1699.3 L318.6,1694.6 L317.0,1681.9 L325.0,1676.0 L332.9,1675.6 L340.0,1679.0 L348.7,1685.0 L355.1,1697.7 L352.1,1710.6 L348.9,1715.3 L355.3,1720.1 L348.9,1724.9 L341.0,1724.9 L337.8,1720.1 L333.1,1721.7 L325.2,1726.4 L317.2,1728.0 L309.3,1729.6 L304.6,1724.9 L301.4,1718.5 L295.1,1720.1 L291.9,1716.0 L230.1,1716.0 L225.3,1712.2 L219.0,1707.4 L212.7,1701.1 L214.5,1700.3 L217.6,1699.3 L211.3,1691.4 L203.4,1686.6 L196.4,1683.5 Z M331.3,1624.9 L348.7,1612.2 L358.2,1604.3 L380.4,1601.1 L402.6,1598.9 L424.8,1601.1 L435.9,1605.8 L431.1,1618.5 L434.3,1631.2 L427.9,1650.2 L421.6,1656.5 L408.9,1664.5 L399.4,1672.4 L389.9,1685.0 L382.0,1681.9 L375.7,1672.4 L369.3,1659.7 L364.6,1648.6 L358.2,1637.5 L345.5,1630.6 L334.5,1629.6 Z M294.9,1607.4 L307.5,1602.7 L336.0,1601.1 L348.0,1604.5 L332.9,1618.5 L323.4,1624.9 L310.7,1624.9 L301.2,1620.1 L288.5,1615.3 Z M317.0,1637.5 L336.0,1643.9 L345.5,1656.5 L351.9,1666.0 L348.7,1678.7 L339.2,1672.4 L329.7,1662.9 L320.2,1653.4 L313.9,1643.9 Z M227.0,1641.0 L232.0,1631.0 L247.0,1623.0 L264.0,1619.0 L276.0,1616.0 L284.0,1612.0 L290.0,1617.0 L300.0,1622.0 L312.0,1628.0 L318.0,1637.0 L313.0,1645.0 L305.0,1652.0 L296.0,1657.0 L285.0,1660.0 L270.0,1661.0 L257.0,1661.0 L244.0,1658.0 L231.9,1655.0 L228.0,1650.0 Z M250.0,1617.0 L262.0,1612.0 L270.0,1614.0 L262.0,1619.0 Z M276.0,1606.0 L290.0,1603.0 L296.0,1608.0 L284.0,1611.0 Z M250.0,1622.0 L264.0,1620.0 L268.0,1628.0 L256.0,1631.0 L248.0,1628.0 Z M426.3,1669.0 L432.0,1667.6 L440.0,1670.0 L439.0,1675.5 L432.0,1677.1 L427.0,1675.0 Z M242.8,1753.4 L249.1,1755.0 L258.6,1757.2 L266.5,1756.5 L273.5,1759.7 L277.6,1765.4 L280.8,1775.6 L284.0,1781.9 L290.3,1785.1 L295.1,1778.7 L300.8,1777.1 L299.8,1783.5 L304.6,1786.6 L310.9,1790.8 L315.7,1796.1 L320.4,1797.7 L319.0,1803.7 L317.9,1800.9 L312.5,1799.3 L306.1,1796.1 L298.2,1792.0 L290.3,1789.8 L282.4,1786.6 L274.5,1781.9 L266.5,1774.9 L260.2,1767.6 L253.9,1762.9 L250.7,1758.1 L247.0,1756.0 Z M245.9,1756.5 L249.1,1762.9 L255.5,1770.8 L253.9,1771.7 L247.5,1764.5 L244.4,1757.2 Z M304.6,1774.9 L312.0,1774.5 L320.0,1776.5 L326.7,1779.8 L322.0,1780.5 L314.0,1778.0 L306.0,1777.0 Z M328.3,1780.0 L336.2,1780.5 L335.0,1782.5 L329.0,1782.3 Z M319.0,1803.7 L324.3,1798.5 L330.6,1796.3 L339.1,1798.5 L348.6,1799.5 L354.9,1805.8 L363.4,1809.0 L369.7,1812.2 L376.1,1819.6 L384.5,1823.8 L393.0,1825.9 L401.4,1829.1 L403.5,1835.4 L399.3,1842.8 L395.1,1851.3 L393.0,1859.7 L386.6,1865.0 L380.3,1869.2 L375.0,1874.5 L369.7,1880.9 L366.6,1886.1 L363.4,1888.2 L359.2,1890.4 L358.1,1895.6 L350.7,1899.9 L345.4,1905.1 L343.3,1911.5 L339.1,1916.8 L339.1,1925.2 L337.0,1931.6 L341.2,1937.9 L333.8,1939.0 L327.5,1935.8 L324.3,1925.2 L325.4,1912.5 L328.5,1895.6 L330.6,1880.9 L332.7,1866.1 L333.8,1857.6 L329.6,1852.3 L323.2,1844.9 L316.9,1835.4 L312.7,1829.1 L313.7,1821.7 L316.9,1817.5 L318.0,1810.1 Z M454.3,1729.6 L459.0,1728.0 L461.7,1728.8 L471.2,1727.2 L468.0,1719.3 L466.4,1714.6 L474.4,1711.4 L477.5,1705.1 L487.0,1701.9 L490.0,1696.0 L496.5,1697.1 L494.0,1690.0 L490.2,1694.0 L485.5,1686.0 L482.3,1681.3 L485.5,1675.0 L493.4,1667.0 L501.3,1659.1 L509.2,1654.4 L518.7,1650.6 L526.6,1651.2 L529.8,1657.5 L537.7,1656.0 L547.2,1659.1 L555.2,1660.7 L563.1,1657.5 L575.8,1656.0 L586.3,1651.0 L596.0,1646.0 L606.9,1642.3 L614.9,1647.0 L621.2,1656.5 L627.5,1645.5 L640.2,1637.5 L652.9,1632.8 L662.4,1628.0 L668.7,1624.9 L678.2,1631.2 L687.7,1634.4 L694.1,1640.7 L706.7,1642.3 L719.9,1644.4 L725.9,1650.4 L737.9,1648.9 L749.9,1645.9 L764.8,1648.9 L779.8,1653.4 L785.8,1657.9 L797.8,1656.4 L809.7,1654.9 L821.7,1657.9 L830.7,1663.9 L839.7,1668.4 L845.6,1677.3 L851.6,1688.4 L833.7,1674.4 L821.7,1671.4 L815.7,1672.9 L814.2,1677.3 L800.7,1683.3 L788.8,1687.8 L785.8,1689.3 L779.8,1699.8 L775.3,1710.3 L772.3,1699.8 L770.8,1689.3 L764.8,1689.3 L752.9,1687.2 L743.9,1690.8 L734.9,1698.3 L731.9,1705.8 L728.9,1713.3 L718.4,1720.7 L716.7,1731.2 L721.5,1743.9 L717.0,1742.0 L713.0,1733.0 L708.8,1737.5 L704.1,1742.3 L707.2,1748.6 L705.7,1756.5 L700.9,1764.5 L694.6,1770.8 L686.6,1774.9 L680.1,1781.7 L685.2,1790.1 L683.5,1796.8 L678.5,1800.1 L673.5,1796.8 L671.8,1801.8 L668.4,1810.2 L670.1,1818.5 L666.8,1820.2 L664.1,1813.5 L663.4,1803.5 L658.4,1796.8 L655.0,1786.8 L653.4,1776.7 L650.2,1770.8 L647.0,1774.0 L643.9,1770.8 L639.1,1772.4 L634.4,1777.1 L629.6,1785.1 L626.4,1793.0 L621.7,1802.5 L618.5,1796.1 L615.3,1786.6 L612.2,1777.1 L605.8,1770.8 L596.3,1769.2 L590.0,1767.6 L585.8,1770.8 L588.9,1777.1 L584.2,1781.9 L573.1,1788.2 L562.0,1791.4 L557.2,1786.6 L549.3,1775.6 L541.4,1764.5 L538.2,1758.1 L538.2,1753.4 L544.0,1748.0 L541.0,1743.0 L531.0,1742.0 L520.0,1741.0 L512.0,1738.0 L508.1,1740.7 L500.0,1733.0 L495.4,1728.0 L488.0,1731.0 L478.0,1733.0 L474.9,1732.8 L470.1,1739.1 L465.3,1742.3 L457.4,1741.3 L454.3,1737.5 Z M452.7,1702.5 L456.5,1701.0 L458.4,1704.0 L457.5,1708.0 L453.5,1708.5 L451.8,1705.5 Z M493.4,1618.0 L503.0,1616.3 L515.0,1618.0 L521.9,1624.0 L512.0,1627.4 L500.0,1626.0 Z M575.8,1638.5 L591.6,1630.6 L604.3,1629.0 L594.8,1641.7 L585.3,1649.6 L578.9,1646.0 Z M646.5,1614.0 L660.0,1610.6 L671.9,1616.0 L665.0,1623.3 L652.0,1621.0 Z M738.4,1633.0 L750.0,1631.2 L760.0,1634.0 L752.0,1637.5 Z M563.1,1613.0 L575.0,1611.6 L588.4,1614.0 L580.0,1616.3 Z M454.9,1737.4 L458.7,1742.0 L468.5,1742.3 L478.0,1742.3 L487.5,1742.3 L493.9,1748.6 L503.4,1751.8 L512.9,1750.2 L519.2,1755.0 L536.2,1755.5 L538.2,1758.1 L541.4,1764.5 L549.3,1775.6 L557.2,1786.6 L560.0,1790.0 L571.0,1796.5 L568.0,1801.0 L557.5,1816.8 L551.7,1836.2 L544.0,1855.6 L532.3,1873.0 L520.7,1886.5 L511.0,1890.4 L503.3,1878.8 L497.5,1855.6 L493.6,1832.3 L485.8,1814.9 L480.0,1810.0 L474.2,1809.0 L458.7,1807.1 L447.1,1799.4 L439.4,1789.7 L441.3,1774.2 L444.8,1762.0 L449.0,1756.8 L452.7,1747.0 Z M560.0,1845.0 L563.5,1846.0 L561.0,1858.0 L556.0,1872.0 L552.5,1871.0 L554.0,1860.0 Z M745.3,1704.3 L750.0,1706.0 L748.4,1713.0 L745.0,1721.7 L741.0,1730.0 L738.9,1740.7 L732.0,1746.0 L726.2,1750.2 L723.1,1751.8 L724.0,1747.0 L730.0,1742.0 L735.0,1734.0 L740.0,1724.9 L743.0,1714.0 Z M744.5,1702.8 L747.0,1704.0 L747.5,1715.0 L746.5,1726.7 L744.8,1720.0 Z M702.0,1771.0 L704.0,1771.5 L703.5,1775.0 L701.5,1774.5 Z M680.0,1781.0 L684.0,1780.5 L684.0,1784.0 L680.5,1784.0 Z M627.0,1803.0 L630.0,1804.0 L629.5,1808.0 L627.0,1807.5 Z M655.0,1810.2 L663.4,1815.2 L673.5,1825.2 L680.1,1835.3 L676.8,1836.3 L668.4,1828.6 L660.1,1820.2 Z M680.1,1837.0 L696.9,1837.6 L710.3,1840.3 L708.6,1842.0 L693.5,1841.0 L681.8,1839.6 Z M681.8,1813.5 L690.2,1808.5 L696.9,1810.2 L698.5,1818.5 L695.2,1825.2 L686.8,1826.9 L681.8,1821.9 Z M700.2,1816.9 L706.0,1815.5 L703.5,1820.0 L707.0,1823.0 L705.0,1827.0 L701.5,1823.0 Z M720.3,1820.2 L733.7,1821.9 L743.7,1823.6 L753.7,1828.6 L762.1,1831.9 L767.1,1835.3 L760.4,1838.6 L750.4,1835.3 L740.4,1833.6 L730.3,1830.3 L723.6,1826.9 Z M768.0,1832.0 L774.0,1834.5 L780.5,1839.5 L778.0,1840.3 L771.0,1836.5 Z M690.2,1860.4 L698.5,1855.3 L706.9,1850.3 L715.3,1847.0 L723.6,1845.3 L730.3,1848.7 L738.7,1850.3 L743.7,1843.6 L747.1,1840.3 L750.4,1850.3 L755.4,1860.4 L763.8,1867.1 L766.5,1877.1 L762.1,1890.5 L755.4,1897.2 L748.7,1897.8 L740.4,1892.2 L733.7,1887.1 L723.6,1885.5 L713.6,1887.1 L703.6,1888.8 L695.2,1890.5 L691.9,1883.8 L690.2,1873.7 Z M752.1,1902.2 L757.1,1902.8 L756.0,1907.2 L752.8,1906.8 Z M807.3,1890.5 L814.0,1895.5 L810.6,1900.5 L805.6,1898.8 Z M803.9,1902.2 L805.6,1905.5 L798.9,1912.2 L793.9,1915.6 L792.2,1913.9 L797.2,1908.9 Z M165.0,1780.0 L169.0,1782.0 L172.0,1785.0 L170.0,1786.0 L166.0,1783.0 Z M351.0,1929.5 L355.0,1929.5 L354.5,1931.5 L351.0,1931.5 Z M352.0,1704.0 L360.0,1702.0 L361.0,1709.0 L355.0,1712.0 L351.0,1709.0 Z" fill="#eeeeee" stroke="#a6a6a6" stroke-width="0.7" stroke-linejoin="round"/></g><path d="M288.5,1675.6 L304.4,1674.0 L317.0,1681.9 L318.6,1694.6 L313.9,1699.3 L307.5,1694.6 L298.0,1694.6 L288.5,1691.4 L286.9,1683.5 Z" fill="#fff" stroke="#a6a6a6" stroke-width="0.7"/><path d="M524.0,1724.5 L532.0,1722.0 L542.0,1722.5 L548.0,1725.0 L546.0,1729.5 L538.0,1731.0 L530.0,1730.0 L525.0,1727.5 Z M565.0,1720.0 L569.0,1719.5 L571.0,1726.0 L573.0,1734.0 L572.0,1740.0 L568.5,1740.0 L566.5,1733.0 L563.5,1727.0 Z M505.0,1668.0 L509.0,1664.0 L513.0,1667.0 L512.0,1676.0 L516.0,1684.0 L520.0,1690.0 L518.0,1697.0 L510.0,1699.0 L503.0,1697.0 L498.0,1699.0 L497.0,1694.0 L503.0,1690.0 L507.0,1683.0 L505.0,1675.0 Z" fill="#f4f4f4" stroke="#a6a6a6" stroke-width="0.7"/><g fill="none" stroke-linecap="round" stroke-linejoin="round"><path d="M234,1640 L250,1638 L262,1642 L276,1641 L292,1645 L306,1642 L318,1640" stroke="#a6a6a6" stroke-width="2.6"/><path d="M247,1626 L256,1633 L262,1642" stroke="#a6a6a6" stroke-width="2.6"/><path d="M270,1622 L276,1632 L280,1642" stroke="#a6a6a6" stroke-width="2.6"/><path d="M290,1620 L294,1630 L292,1645" stroke="#a6a6a6" stroke-width="2.6"/><path d="M300,1625 L306,1632 L306,1642" stroke="#a6a6a6" stroke-width="2.6"/><path d="M262,1650 L272,1652 L285,1650 L296,1656" stroke="#a6a6a6" stroke-width="2.6"/><path d="M318,1628 L330,1622 L340,1618" stroke="#a6a6a6" stroke-width="2.6"/><path d="M250,1648 L258,1655" stroke="#a6a6a6" stroke-width="2.6"/><path d="M234,1640 L250,1638 L262,1642 L276,1641 L292,1645 L306,1642 L318,1640" stroke="#fff" stroke-width="1.3"/><path d="M247,1626 L256,1633 L262,1642" stroke="#fff" stroke-width="1.3"/><path d="M270,1622 L276,1632 L280,1642" stroke="#fff" stroke-width="1.3"/><path d="M290,1620 L294,1630 L292,1645" stroke="#fff" stroke-width="1.3"/><path d="M300,1625 L306,1632 L306,1642" stroke="#fff" stroke-width="1.3"/><path d="M262,1650 L272,1652 L285,1650 L296,1656" stroke="#fff" stroke-width="1.3"/><path d="M318,1628 L330,1622 L340,1618" stroke="#fff" stroke-width="1.3"/><path d="M250,1648 L258,1655" stroke="#fff" stroke-width="1.3"/></g><path d="M338,1798.5 L340.1,1810 L333.8,1817.5 M314.8,1819.6 L325.4,1822.7 L331.7,1827 M329.6,1830.1 L331.7,1837.5 L342.3,1840.7 L348.6,1847 L354.9,1851.3 L357,1859.7 L363.4,1866.1 L365.5,1874.5 L359.2,1878.7 L361.3,1884 M340.1,1810 L350.7,1815.4 L357,1813.2 L369.7,1812 M337,1844.9 L334.9,1857.6 M335.9,1864 L349.7,1862.9 L359.2,1870.3 M333.8,1866.1 L331.7,1885.1 L329.6,1906.2 L328.5,1927.3 M376,1819.6 L378,1826 M384.5,1823.8 L385,1828 M295,1786 L300,1783 M304.6,1786.6 L306,1792 M310.9,1790.8 L311,1796 M453.5,1744.7 L459.6,1752.1 L452.3,1759.5 M442.4,1769.4 L459.6,1768.1 L460.9,1782.9 M488,1744.7 L490.5,1759.5 L488,1768.1 M459.6,1768.1 L476.9,1774.3 L488,1768.1 L500.3,1773.1 M517.6,1755.8 L517.6,1776.8 M500.3,1773.1 L516.3,1774.3 L517.6,1776.8 M513.9,1776.8 L513.9,1789.1 L511.4,1798.9 M444.9,1781.7 L464.6,1784.2 L476.9,1790.3 L500.3,1781.7 M494.2,1808.8 L508.9,1803.9 L526.2,1806.3 L538.5,1798.9 M499.1,1828.5 L516.3,1823.6 L528.7,1826.1 M533.6,1781.7 L538.5,1791.6 L550.8,1796.5 M501.6,1848.2 L518.8,1845.8 L531.1,1850.7 M496.6,1863 L516.3,1863 L521.3,1870.4 M536.6,1774 L540,1790 L545,1800 M525,1806 L528,1826 L527,1845 M505,1804 L503,1830 M451,1790 L455,1800 M466,1785 L467,1806 M471.2,1727.2 L478,1725 L486,1722 M477.5,1705.1 L486,1712 L490,1722 M490,1700 L494,1712 L500,1718 M496.5,1697.1 L500,1708 L506,1712 M506,1700 L510,1712 L514,1714.6 M500,1718 L506,1724 L512,1726 M512,1726 L516,1733 M514,1700 L522,1698 L530,1700 M539.3,1709.8 L541,1700 L545,1690 M493.4,1667 L500,1680 L506,1690 M515,1660 L512,1675 M505,1700 L495,1725 M546,1713 L556,1716 L566,1712 L580,1713 L596,1708 L612,1712 L622,1716 M545.7,1713 L552,1724 L560,1730 M560,1730 L572,1734 L588,1732 L600,1736 L612,1740 M575,1716 L578,1730 M600,1718 L604,1732 M631,1716.9 L646,1705 L665,1702 L690,1705 L702,1707 M544,1748 L552,1752 L556,1746 M549,1760 L562,1766 L572,1774 M585,1745 L590,1735 L598,1733 M655,1777 L660,1790 L666,1800 M666,1785 L676,1790 M680,1660 L690,1690 L702,1706 M620,1660 L626,1690 L631,1716 M750,1672 L742,1690 M325,1676 L330,1700 L341,1724.9" fill="none" stroke="#b8b8b8" stroke-width="0.6" stroke-linejoin="round"/><path d="M230.1,1716.0 L291.9,1716.0 L295.1,1720.1 L301.4,1718.5 L304.6,1724.9 L309.3,1729.6 L317.2,1728.0 L325.2,1726.4 L333.1,1721.7 L337.8,1720.1 L341.0,1724.9 L336.2,1728.0 L331.5,1732.8 L326.7,1737.5 L322.0,1742.3 L318.8,1748.6 L314.1,1755.0 L312.5,1759.7 L314.7,1766.0 L313.1,1768.6 L310.3,1764.5 L307.7,1759.7 L298.2,1759.1 L288.7,1760.3 L283.0,1763.5 L280.8,1767.6 L277.6,1765.4 L273.5,1759.7 L266.5,1756.5 L258.6,1757.2 L249.1,1755.0 L242.8,1753.4 L238.0,1748.6 L231.7,1740.7 L229.5,1731.2 Z M147.0,1658.1 L155.8,1653.4 L165.3,1650.2 L178.0,1651.8 L196.4,1655.0 L196.4,1683.5 L203.4,1686.6 L211.3,1691.4 L217.6,1699.3 L214.5,1700.3 L208.1,1693.9 L201.8,1688.2 L193.9,1685.0 L184.4,1683.5 L176.4,1685.0 L170.1,1689.8 L159.0,1696.1 L149.5,1701.5 L152.7,1696.1 L157.4,1690.8 L152.7,1685.0 L147.0,1681.9 L151.1,1676.2 L146.3,1672.4 L144.8,1666.0 L152.7,1664.5 L147.9,1661.3 Z M165.0,1780.0 L169.0,1782.0 L172.0,1785.0 L170.0,1786.0 L166.0,1783.0 Z" fill="#4cb9d7"/><path d="M462.2,1689.1 L465.3,1690.7 L463.8,1695.5 L466.9,1697.0 L470.1,1701.8 L473.5,1706.5 L471.7,1709.7 L465.3,1710.3 L460.6,1711.3 L462.2,1706.5 L463.8,1703.4 L459.6,1700.2 L457.4,1697.0 L459.6,1692.3 Z" fill="#f7c232"/><path d="M515.5,1711.4 L521.9,1708.2 L531.4,1706.6 L539.3,1709.8 L545.7,1713.0 L544.1,1719.3 L537.7,1722.5 L531.4,1720.9 L528.2,1723.4 L525.1,1719.3 L518.7,1717.7 L514.0,1714.6 Z" fill="#1a79a0"/><path d="M556.3,1737.0 L559.1,1737.0 L563.3,1739.8 L568.9,1743.3 L574.6,1742.6 L580.2,1741.2 L585.8,1742.6 L589.4,1746.1 L588.0,1751.1 L588.7,1756.0 L590.1,1760.9 L592.2,1765.1 L590.1,1767.3 L585.8,1767.3 L580.2,1766.5 L574.6,1765.1 L568.9,1763.0 L564.7,1759.5 L561.9,1754.6 L559.1,1749.6 L557.7,1744.7 L556.3,1740.5 Z" fill="#2aa6c6"/><path d="M590.1,1760.9 L594.3,1760.2 L599.9,1757.4 L604.2,1753.2 L607.0,1747.5 L611.2,1745.4 L615.4,1744.7 L618.2,1746.1 L615.4,1749.6 L614.7,1752.5 L612.6,1755.3 L609.8,1758.8 L607.0,1763.7 L604.2,1767.3 L599.9,1768.7 L595.7,1768.0 L592.2,1765.8 Z" fill="#9b1a55"/><path d="M618.2,1746.1 L621.7,1748.6 L623.3,1755.0 L628.0,1759.7 L634.4,1761.3 L642.3,1762.9 L647.0,1766.0 L651.8,1762.9 L656.5,1764.5 L655.0,1769.2 L650.2,1770.8 L647.0,1774.0 L643.9,1770.8 L639.1,1772.4 L634.4,1777.1 L629.6,1785.1 L626.4,1793.0 L621.7,1802.5 L618.5,1796.1 L615.3,1786.6 L612.2,1777.1 L605.8,1772.0 L604.2,1767.3 L607.0,1763.7 L609.8,1758.8 L612.6,1755.3 L614.7,1752.5 L615.4,1749.6 Z" fill="#c92c6a"/><path d="M615.3,1737.5 L621.7,1732.8 L628.0,1726.4 L631.2,1720.1 L639.1,1716.9 L645.5,1720.1 L650.2,1726.4 L658.1,1729.6 L666.0,1731.2 L675.6,1729.6 L685.1,1724.9 L694.6,1720.1 L699.3,1712.2 L702.5,1707.4 L708.8,1704.3 L715.2,1709.0 L719.9,1715.3 L729.4,1719.2 L726.2,1723.3 L719.9,1727.4 L715.2,1732.8 L708.8,1737.5 L704.1,1742.3 L707.2,1748.6 L705.7,1756.5 L700.9,1764.5 L694.6,1770.8 L686.6,1774.9 L680.3,1777.1 L672.4,1775.6 L666.0,1773.0 L662.9,1769.2 L658.1,1766.0 L655.0,1762.9 L651.8,1762.9 L648.6,1761.3 L642.3,1759.7 L635.9,1756.5 L629.6,1751.8 L623.3,1747.0 L618.5,1742.3 Z" fill="#f5891f"/><path d="M518.6,1755.6 L535.1,1756.5 L536.6,1774.0 L518.6,1774.0 Z" fill="#d4245a"/><path d="M476.5,1794.0 L481.0,1791.6 L488.0,1793.0 L493.0,1791.8 L497.5,1793.5 L496.0,1799.0 L492.0,1804.0 L489.0,1808.0 L486.0,1809.9 L481.0,1808.5 L478.0,1809.0 L476.2,1803.0 L477.0,1797.0 Z" fill="#e04a5e"/><path d="M701.0,1782.5 L706.0,1784.0 L707.0,1790.0 L705.5,1794.0 L710.0,1796.0 L713.0,1799.0 L714.3,1804.0 L712.5,1808.5 L708.0,1807.5 L705.0,1804.0 L703.0,1799.0 L701.5,1794.0 L700.0,1788.0 Z" fill="#1a7ca0"/></svg>
<svg style="left:0;top:0" width="860" height="3897"><line x1="463.1" y1="1520.2" x2="463.1" y2="1692" stroke="#f7c232" stroke-width="1.5"/><line x1="462.35" y1="1520.2" x2="489.9" y2="1520.2" stroke="#f7c232" stroke-width="1.5"/><line x1="529.6" y1="1575.3" x2="529.6" y2="1707.5" stroke="#1a79a0" stroke-width="1.5"/><line x1="528.85" y1="1575.3" x2="556.2" y2="1575.3" stroke="#1a79a0" stroke-width="1.5"/><line x1="607.6" y1="1564" x2="607.6" y2="1750" stroke="#9b1a55" stroke-width="1.5"/><line x1="606.85" y1="1564" x2="634.3" y2="1564" stroke="#9b1a55" stroke-width="1.5"/><line x1="704.3" y1="1597.5" x2="704.3" y2="1786" stroke="#1a7ca0" stroke-width="1.5"/><line x1="703.55" y1="1597.5" x2="731.3" y2="1597.5" stroke="#1a7ca0" stroke-width="1.5"/><line x1="245.2" y1="1757" x2="245.2" y2="1855.5" stroke="#4cb9d7" stroke-width="1.5"/><line x1="244.45" y1="1855.5" x2="271" y2="1855.5" stroke="#4cb9d7" stroke-width="1.5"/><line x1="479.3" y1="1807" x2="479.3" y2="1917.5" stroke="#e04a5e" stroke-width="1.5"/><line x1="478.55" y1="1917.5" x2="507.1" y2="1917.5" stroke="#e04a5e" stroke-width="1.5"/><line x1="534.6" y1="1773" x2="534.6" y2="1885.8" stroke="#d4245a" stroke-width="1.5"/><line x1="533.85" y1="1885.8" x2="561.4" y2="1885.8" stroke="#d4245a" stroke-width="1.5"/><line x1="583.8" y1="1766" x2="583.8" y2="1941.8" stroke="#2aa6c6" stroke-width="1.5"/><line x1="583.05" y1="1941.8" x2="610.5" y2="1941.8" stroke="#2aa6c6" stroke-width="1.5"/><line x1="609.2" y1="1790" x2="609.2" y2="1838.2" stroke="#c92c6a" stroke-width="1.5"/><line x1="608.45" y1="1838.2" x2="635.7" y2="1838.2" stroke="#c92c6a" stroke-width="1.5"/><line x1="665.4" y1="1774" x2="665.4" y2="1897.7" stroke="#f5891f" stroke-width="1.5"/><line x1="664.65" y1="1897.7" x2="693.8" y2="1897.7" stroke="#f5891f" stroke-width="1.5"/></svg>
<div class="t" style="left:467.20px;top:1501.32px;font-size:17px;font-weight:400;color:#6a6a6a;">7</div>
<div class="t" style="left:467.20px;top:1523.43px;font-size:14.5px;font-weight:700;color:#3f3f3f;letter-spacing:0.336px;">400</div>
<div class="t" style="left:467.20px;top:1541.29px;font-size:11px;font-weight:400;color:#555555;letter-spacing:-0.369px;">UNITED KINGDOM</div>
<div class="t" style="left:532.80px;top:1556.62px;font-size:17px;font-weight:400;color:#6a6a6a;letter-spacing:0.745px;">10</div>
<div class="t" style="left:533.80px;top:1579.13px;font-size:14.5px;font-weight:700;color:#3f3f3f;letter-spacing:0.186px;">196</div>
<div class="t" style="left:533.80px;top:1595.19px;font-size:11px;font-weight:400;color:#555555;letter-spacing:-0.777px;">UKRAINE</div>
<div class="t" style="left:612.80px;top:1545.32px;font-size:17px;font-weight:400;color:#6a6a6a;">9</div>
<div class="t" style="left:612.80px;top:1567.93px;font-size:14.5px;font-weight:700;color:#3f3f3f;letter-spacing:-0.464px;">307</div>
<div class="t" style="left:612.80px;top:1584.89px;font-size:11px;font-weight:400;color:#555555;letter-spacing:-0.861px;">PAKISTAN</div>
<div class="t" style="left:708.80px;top:1579.42px;font-size:17px;font-weight:400;color:#6a6a6a;">1</div>
<div class="t" style="left:709.80px;top:1602.13px;font-size:14.5px;font-weight:700;color:#3f3f3f;letter-spacing:0.120px;">2,950</div>
<div class="t" style="left:709.80px;top:1618.89px;font-size:11px;font-weight:400;color:#555555;letter-spacing:-0.684px;">THE PHILIPPINES</div>
<div class="t" style="left:249.60px;top:1835.62px;font-size:17px;font-weight:400;color:#6a6a6a;">4</div>
<div class="t" style="left:249.60px;top:1858.73px;font-size:14.5px;font-weight:700;color:#3f3f3f;letter-spacing:0.636px;">696</div>
<div class="t" style="left:249.60px;top:1875.29px;font-size:11px;font-weight:400;color:#555555;letter-spacing:-1.090px;">USA</div>
<div class="t" style="left:483.90px;top:1898.12px;font-size:17px;font-weight:400;color:#6a6a6a;">3</div>
<div class="t" style="left:483.90px;top:1921.53px;font-size:14.5px;font-weight:700;color:#3f3f3f;letter-spacing:0.345px;">1,374</div>
<div class="t" style="left:483.90px;top:1937.29px;font-size:11px;font-weight:400;color:#555555;letter-spacing:-0.866px;">NIGERIA</div>
<div class="t" style="left:539.00px;top:1867.52px;font-size:17px;font-weight:400;color:#6a6a6a;">6</div>
<div class="t" style="left:539.00px;top:1889.73px;font-size:14.5px;font-weight:700;color:#3f3f3f;letter-spacing:0.486px;">528</div>
<div class="t" style="left:539.00px;top:1905.49px;font-size:11px;font-weight:400;color:#555555;letter-spacing:-1.392px;">EGYPT</div>
<div class="t" style="left:588.60px;top:1924.62px;font-size:17px;font-weight:400;color:#6a6a6a;">5</div>
<div class="t" style="left:588.60px;top:1946.23px;font-size:14.5px;font-weight:700;color:#3f3f3f;letter-spacing:-0.314px;">545</div>
<div class="t" style="left:587.60px;top:1963.79px;font-size:11px;font-weight:400;color:#555555;letter-spacing:-0.946px;">IRAN</div>
<div class="t" style="left:612.80px;top:1822.92px;font-size:17px;font-weight:400;color:#6a6a6a;">2</div>
<div class="t" style="left:612.80px;top:1844.73px;font-size:14.5px;font-weight:700;color:#3f3f3f;letter-spacing:0.320px;">2,127</div>
<div class="t" style="left:611.80px;top:1860.99px;font-size:11px;font-weight:400;color:#555555;letter-spacing:-0.150px;">INDIA</div>
<div class="t" style="left:670.90px;top:1880.12px;font-size:17px;font-weight:400;color:#6a6a6a;">8</div>
<div class="t" style="left:670.90px;top:1902.73px;font-size:14.5px;font-weight:700;color:#3f3f3f;letter-spacing:-0.614px;">328</div>
<div class="t" style="left:670.90px;top:1919.49px;font-size:11px;font-weight:400;color:#555555;letter-spacing:-1.047px;">CHINA</div>
<svg style="left:0;top:0" width="860" height="3897"><path d="M43.2,1591.3 L28.81,1566.05 A17,17 0 1 1 58.19,1566.05 Z" fill="#17819e"/><ellipse cx="43.4" cy="1558.7" rx="13.5" ry="14.2" fill="#fff"/></svg>
<div class="t" style="left:27.40px;top:1602.37px;font-size:42px;font-weight:700;color:#1d2b41;transform:scaleX(0.8218);transform-origin:0.00px 0;">31%</div>
<div class="t" style="left:26.40px;top:1786.78px;font-size:44px;font-weight:700;color:#1d2b41;transform:scaleX(0.8739);transform-origin:1.00px 0;">77%</div>
<div class="t" style="left:27.40px;top:1655.04px;font-size:16.5px;font-weight:400;color:#1d2b41;transform:scaleX(1.0322);transform-origin:0.00px 0;">of these top 10</div>
<div class="t" style="left:27.40px;top:1673.74px;font-size:16.5px;font-weight:400;color:#1d2b41;transform:scaleX(1.1297);transform-origin:0.00px 0;">came from</div>
<div class="t" style="left:27.40px;top:1692.44px;font-size:16.5px;font-weight:400;color:#1d2b41;transform:scaleX(1.0136);transform-origin:0.00px 0;">The Philippines</div>
<div class="t" style="left:27.40px;top:1836.04px;font-size:16.5px;font-weight:400;color:#1d2b41;transform:scaleX(1.1032);transform-origin:0.00px 0;">of all applicants</div>
<div class="t" style="left:27.40px;top:1854.74px;font-size:16.5px;font-weight:400;color:#1d2b41;transform:scaleX(1.1297);transform-origin:0.00px 0;">came from</div>
<div class="t" style="left:27.40px;top:1873.44px;font-size:16.5px;font-weight:400;color:#1d2b41;transform:scaleX(1.0291);transform-origin:0.00px 0;">these 10 countries</div>
<svg style="left:0;top:0" width="860" height="3897"><circle cx="32.20" cy="1745.3" r="3.15" fill="#1d2b41"/><circle cx="44.16" cy="1745.3" r="3.15" fill="#1d2b41"/><circle cx="56.12" cy="1745.3" r="3.15" fill="#1d2b41"/><circle cx="68.08" cy="1745.3" r="3.15" fill="#1d2b41"/><circle cx="80.04" cy="1745.3" r="3.15" fill="#1d2b41"/><circle cx="92.00" cy="1745.3" r="3.15" fill="#1d2b41"/><circle cx="103.96" cy="1745.3" r="3.15" fill="#1d2b41"/><circle cx="115.92" cy="1745.3" r="3.15" fill="#1d2b41"/><circle cx="127.88" cy="1745.3" r="3.15" fill="#1d2b41"/></svg>
<svg style="left:0;top:0" width="860" height="430"><defs><clipPath id="gl"><ellipse cx="624.4" cy="207.5" rx="154" ry="147"/></clipPath></defs><ellipse cx="624.4" cy="207.5" rx="154" ry="147" fill="#1fa3bf"/><g clip-path="url(#gl)"><path d="M470,207 Q478,108 545,94 Q600,78 660,82 Q765,100 780,200 L790,200 L790,40 L460,40 L460,207 Z" fill="#0d7a96"/><rect x="460" y="200" width="330" height="160" fill="#168ba9"/><path d="M460,246 Q560,238 660,246 L660,360 L460,360 Z" fill="#11768f"/><path d="M460,285 Q560,277 660,287 L700,297 L700,360 L460,360 Z" fill="#0b4963"/><path d="M640,200 L790,200 L790,360 L640,360 Z" fill="#0e5a73"/><path d="M600,300 Q650,285 700,300 L705,360 L590,360 Z" fill="#0c4f69"/><path d="M750,100 Q778,150 779,207 Q778,280 740,330 L760,340 L790,200 L790,90 Z" fill="#0e5c78"/><path d="M688,262 Q708,254 730,258 L722,312 Q705,318 690,314 Q684,290 688,262 Z" fill="#0b3550"/><path d="M726,276 L752,266 L750,292 L736,316 L724,320 L720,308 Z" fill="#1a3a60"/><path d="M734,238 L770,224 L772,250 L750,275 L736,270 Z" fill="#6c1f4e"/><path d="M752,232 L770,222 L771,246 L756,262 Z" fill="#8e3a6a"/><path d="M710,234 Q735,222 760,221 L762,232 Q735,238 712,246 Z" fill="#157a94"/><path d="M739,205 L742,206 L744,214 L741,214 Z M752,206 L757,206 L754,212 Z M765,208 L770,208 L771,215 L768,214 Z" fill="#d8eef3" opacity="0.85"/><path d="M546,121 L573,115 L575,138 L548,141 Z" fill="#45b7cf"/><path d="M655,150 Q685,160 700,196 L662,198 Q654,172 655,150 Z" fill="#7ccbe0" opacity="0.75"/><path d="M705,172 Q730,180 748,196 L748,200 L708,200 Z" fill="#2aa7c4"/><path d="M470,210 Q472,150 500,112 Q514,94 530,84 L535,97 L529,112 L522,126 L515,140 L508,155 L502,170 L497,186 L494,200 L492,210 Z" fill="#d93a6a"/><path d="M508,125 Q516,112 525,104 L527,108 Q520,118 512,130 Z" fill="#2a94b0"/><path d="M511,140 Q520,125 532,110 L535,116 L534,130 L525,134 L518,138 Z" fill="#dce5d8"/><path d="M531,92 Q542,84 553,82 L552,88 Q542,94 534,97 Z" fill="#a8dce8"/><path d="M557,97 Q560,84 573,76 Q585,70 598,70 L596,76 Q588,84 576,88 Q566,93 560,98 Z" fill="#d5eef4"/><path d="M601,99 L612,87 L624,86 L631,92 L624,103 L616,111 L609,109 L603,107 Z" fill="#d6e7ec"/><path d="M629,92 L646,88 L655,85 L659,92 L657,103 L649,116 L648,123 L636,125 L624,116 L612,114 L616,111 L624,103 Z" fill="#c5cfd6"/><path d="M586,121 L599,112 L612,114 L624,116 L636,125 L649,129 L651,138 L642,140 L629,136 L616,134 L605,129 L592,134 L583,142 L583,133 Z" fill="#e8b4b8"/><path d="M648,110 L652,92 L660,84 L676,80 L700,86 L718,96 L735,110 L748,130 L752,160 L747,186 L736,180 L728,172 L720,168 L712,190 L703,174 L692,160 L678,150 L665,143 L652,135 L647,122 Z" fill="#d41d56"/><path d="M660,84 L676,78 L700,84 L712,95 L700,104 L682,100 L668,95 Z" fill="#b4245b"/><path d="M682,86 L700,84 L718,96 L715,116 L700,112 L690,100 Z" fill="#5a1840"/><path d="M700,112 L715,116 L722,140 L730,165 L738,181 L746,188 L736,190 L726,178 L718,150 Z" fill="#8e1a4a"/><path d="M718,96 L735,110 L746,128 L752,160 L747,186 L740,178 L736,150 L728,125 L716,112 Z" fill="#a0184c"/><path d="M659,124 Q668,128 671,140 L668,143 Q659,134 659,124 Z" fill="#a9dce9"/><path d="M734,110 L747,118 L755,140 L748,140 L738,122 Z" fill="#5b92aa"/><path d="M567,172 Q570,156 584,150 L603,145 L607,198 L590,198 L572,195 Q565,184 567,172 Z" fill="#f28a24"/><path d="M603,145 L638,148 L650,162 L660,176 L672,188 L666,199 L605,200 Z" fill="#d8336a"/><path d="M605,200 L666,200 L664,215 L661,230 L654,242 L648,256 L637,268 L628,272 L618,268 L611,245 Q606,225 605,200 Z" fill="#e04a5a"/><path d="M605,200 L666,200 L664,212 Q635,214 606,210 Z" fill="#c8255a"/><path d="M666,237 L673,226 L671,243 L665,249 Z" fill="#e04a5a"/><path d="M598,204 L690,202" stroke="#f6e7ea" stroke-width="1.6"/><path d="M690,202 L780,200" stroke="#0b5570" stroke-width="1"/><path d="M491,206 L507,199 L521,208 L530,217 L544,224 L548,231 L544,245 L537,256 L531,268 L526,279 L526,293 L524,308 L517,293 L510,273 L502,251 L495,234 L490,217 Z" fill="#fcc22e"/><path d="M496,228 L505,232 L514,262 L522,285 L526,300 L524,308 L517,293 L510,273 L502,251 Z" fill="#f8e38e"/><path d="M497,200 L500,220 L505,248" stroke="#fdf0c0" stroke-width="1.3" fill="none"/><path d="M480,180 Q487,172 492,178 L488,196 L482,200 Z" fill="#0f6f8a"/><path d="M573,215 Q582,250 598,288" stroke="#5bc0d6" stroke-width="2" fill="none" opacity="0.55"/><path d="M536,250 Q552,300 578,332" stroke="#6cc6da" stroke-width="2.5" fill="none" opacity="0.5"/><path d="M523,120 Q508,200 522,300" stroke="#4db9d0" stroke-width="2" fill="none" opacity="0.5"/><path d="M708,205 Q702,260 695,330" stroke="#1a8aa6" stroke-width="2.5" fill="none" opacity="0.8"/><path d="M630,290 Q640,320 650,350" stroke="#1a8aa6" stroke-width="2" fill="none" opacity="0.6"/><ellipse cx="551" cy="305" rx="2.5" ry="1.5" fill="#cfe8ee"/><ellipse cx="590" cy="290" rx="3" ry="1" fill="#cfe8ee"/><ellipse cx="600" cy="310" rx="4" ry="1.2" fill="#cfe8ee"/><path d="M700,310 L712,302 L716,312 L706,318 Z" fill="#c8ccd8"/></g><ellipse cx="624.4" cy="207.5" rx="152" ry="145" fill="none" stroke="#0c5d78" stroke-width="4.5"/><path d="M476,240 A152,145 0 0 0 560,338" stroke="#2aa8c4" stroke-width="2" fill="none" opacity="0.55"/></svg>
<div class="t" style="left:52.00px;top:3520.64px;font-size:16.5px;font-weight:400;color:#24344a;transform:scaleX(1.0325);transform-origin:1.00px 0;-webkit-text-stroke:0.3px #24344a;">Notes:</div>
<div class="t" style="left:53.00px;top:3553.44px;font-size:16.5px;font-weight:400;color:#24344a;transform:scaleX(1.1110);transform-origin:0.00px 0;-webkit-text-stroke:0.3px #24344a;">This infographic presents registration data on internationally educated applicants to Manitoba</div>
<div class="t" style="left:52.00px;top:3572.44px;font-size:16.5px;font-weight:400;color:#24344a;transform:scaleX(1.0810);transform-origin:1.00px 0;-webkit-text-stroke:0.3px #24344a;">regulated professions from 2011-2024. Each applicant is counted once, regardless of the</div>
<div class="t" style="left:52.00px;top:3591.24px;font-size:16.5px;font-weight:400;color:#24344a;transform:scaleX(1.1221);transform-origin:1.00px 0;-webkit-text-stroke:0.3px #24344a;">number of applications made.</div>
<div class="t" style="left:52.00px;top:3622.94px;font-size:16.5px;font-weight:400;color:#24344a;transform:scaleX(1.1071);transform-origin:1.00px 0;-webkit-text-stroke:0.3px #24344a;">In more than half of Manitoba regulated professions, applicants apply first to a national third</div>
<div class="t" style="left:52.00px;top:3641.94px;font-size:16.5px;font-weight:400;color:#24344a;transform:scaleX(1.0824);transform-origin:1.00px 0;-webkit-text-stroke:0.3px #24344a;">party for assessment. These individuals are not included in the Fair Registration Practices</div>
<div class="t" style="left:53.00px;top:3660.74px;font-size:16.5px;font-weight:400;color:#24344a;transform:scaleX(1.1027);transform-origin:0.00px 0;-webkit-text-stroke:0.3px #24344a;">Office’s dataset until they are successful with this part of the process and make an application</div>
<div class="t" style="left:53.00px;top:3679.94px;font-size:16.5px;font-weight:400;color:#24344a;transform:scaleX(1.1064);transform-origin:0.00px 0;-webkit-text-stroke:0.3px #24344a;">to a Manitoba regulator. This means applicants are under-counted across the period.</div>
<div class="t" style="left:52.00px;top:3713.44px;font-size:16.5px;font-weight:400;color:#24344a;transform:scaleX(1.0882);transform-origin:1.00px 0;-webkit-text-stroke:0.3px #24344a;">Due to data collection methods, individuals who applied before 2011, but registered during this</div>
<div class="t" style="left:52.00px;top:3732.24px;font-size:16.5px;font-weight:400;color:#24344a;transform:scaleX(1.1006);transform-origin:1.00px 0;-webkit-text-stroke:0.3px #24344a;">period, are not counted. As a result, registrations are under-counted at the beginning of this</div>
<div class="t" style="left:52.00px;top:3751.14px;font-size:16.5px;font-weight:400;color:#24344a;transform:scaleX(1.1030);transform-origin:1.00px 0;-webkit-text-stroke:0.3px #24344a;">period.</div>
<div class="t" style="left:53.00px;top:3783.14px;font-size:16.5px;font-weight:400;color:#24344a;transform:scaleX(1.1027);transform-origin:0.00px 0;-webkit-text-stroke:0.3px #24344a;">Complete timeline information is unavailable for some applicants who registered. Timelines</div>
<div class="t" style="left:52.00px;top:3802.04px;font-size:16.5px;font-weight:400;color:#24344a;transform:scaleX(1.0978);transform-origin:1.00px 0;-webkit-text-stroke:0.3px #24344a;">presented above are for 4,232/5,468 applicants who provisionally registered in the period and</div>
<div class="t" style="left:53.00px;top:3820.94px;font-size:16.5px;font-weight:400;color:#24344a;transform:scaleX(1.0804);transform-origin:0.00px 0;-webkit-text-stroke:0.3px #24344a;">for 3,826/4,505 who registered in the period.</div>
</body></html>
